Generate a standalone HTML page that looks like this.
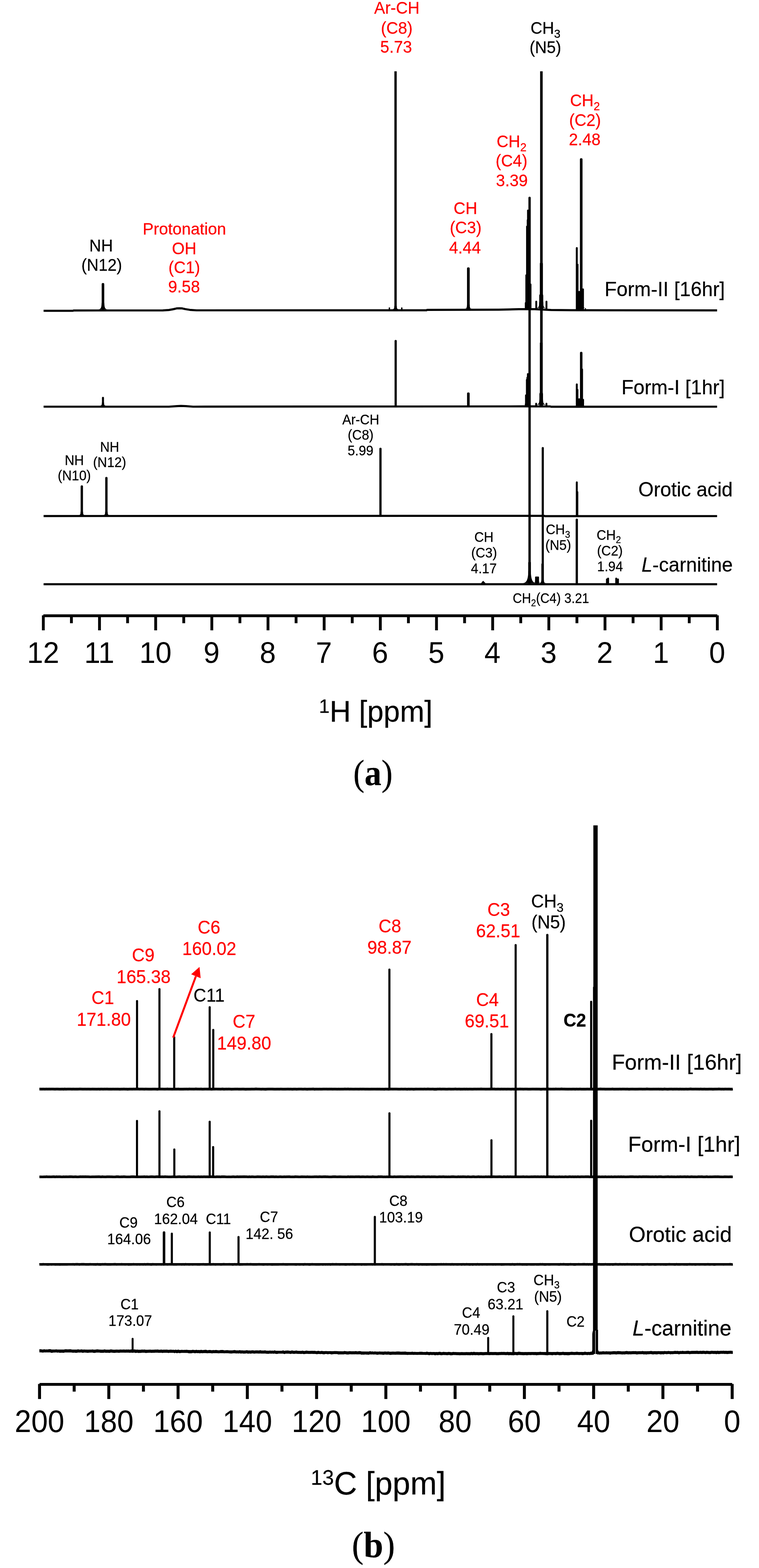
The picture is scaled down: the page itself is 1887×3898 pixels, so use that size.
<!DOCTYPE html>
<html lang="en"><head><meta charset="utf-8"><title>NMR spectra</title>
<style>
html,body{margin:0;padding:0;background:#fff;}
body{width:1887px;height:3898px;overflow:hidden;}
svg{display:block;font-family:"Liberation Sans", sans-serif;}
</style></head><body>
<svg width="1887" height="3898" viewBox="0 0 1887 3898">
<rect width="1887" height="3898" fill="#fff"/>
<line x1="107.72" y1="1530.70" x2="1783.40" y2="1530.70" stroke="#000" stroke-width="7"/>
<line x1="1783.40" y1="1529.70" x2="1783.40" y2="1567.00" stroke="#000" stroke-width="7" stroke-linecap="butt"/>
<line x1="1643.76" y1="1529.70" x2="1643.76" y2="1567.00" stroke="#000" stroke-width="7" stroke-linecap="butt"/>
<line x1="1504.12" y1="1529.70" x2="1504.12" y2="1567.00" stroke="#000" stroke-width="7" stroke-linecap="butt"/>
<line x1="1364.48" y1="1529.70" x2="1364.48" y2="1567.00" stroke="#000" stroke-width="7" stroke-linecap="butt"/>
<line x1="1224.84" y1="1529.70" x2="1224.84" y2="1567.00" stroke="#000" stroke-width="7" stroke-linecap="butt"/>
<line x1="1085.20" y1="1529.70" x2="1085.20" y2="1567.00" stroke="#000" stroke-width="7" stroke-linecap="butt"/>
<line x1="945.56" y1="1529.70" x2="945.56" y2="1567.00" stroke="#000" stroke-width="7" stroke-linecap="butt"/>
<line x1="805.92" y1="1529.70" x2="805.92" y2="1567.00" stroke="#000" stroke-width="7" stroke-linecap="butt"/>
<line x1="666.28" y1="1529.70" x2="666.28" y2="1567.00" stroke="#000" stroke-width="7" stroke-linecap="butt"/>
<line x1="526.64" y1="1529.70" x2="526.64" y2="1567.00" stroke="#000" stroke-width="7" stroke-linecap="butt"/>
<line x1="387.00" y1="1529.70" x2="387.00" y2="1567.00" stroke="#000" stroke-width="7" stroke-linecap="butt"/>
<line x1="247.36" y1="1529.70" x2="247.36" y2="1567.00" stroke="#000" stroke-width="7" stroke-linecap="butt"/>
<line x1="107.72" y1="1529.70" x2="107.72" y2="1567.00" stroke="#000" stroke-width="7" stroke-linecap="butt"/>
<line x1="1713.58" y1="1530.70" x2="1713.58" y2="1549.30" stroke="#000" stroke-width="7" stroke-linecap="butt"/>
<line x1="1573.94" y1="1530.70" x2="1573.94" y2="1549.30" stroke="#000" stroke-width="7" stroke-linecap="butt"/>
<line x1="1434.30" y1="1530.70" x2="1434.30" y2="1549.30" stroke="#000" stroke-width="7" stroke-linecap="butt"/>
<line x1="1294.66" y1="1530.70" x2="1294.66" y2="1549.30" stroke="#000" stroke-width="7" stroke-linecap="butt"/>
<line x1="1155.02" y1="1530.70" x2="1155.02" y2="1549.30" stroke="#000" stroke-width="7" stroke-linecap="butt"/>
<line x1="1015.38" y1="1530.70" x2="1015.38" y2="1549.30" stroke="#000" stroke-width="7" stroke-linecap="butt"/>
<line x1="875.74" y1="1530.70" x2="875.74" y2="1549.30" stroke="#000" stroke-width="7" stroke-linecap="butt"/>
<line x1="736.10" y1="1530.70" x2="736.10" y2="1549.30" stroke="#000" stroke-width="7" stroke-linecap="butt"/>
<line x1="596.46" y1="1530.70" x2="596.46" y2="1549.30" stroke="#000" stroke-width="7" stroke-linecap="butt"/>
<line x1="456.82" y1="1530.70" x2="456.82" y2="1549.30" stroke="#000" stroke-width="7" stroke-linecap="butt"/>
<line x1="317.18" y1="1530.70" x2="317.18" y2="1549.30" stroke="#000" stroke-width="7" stroke-linecap="butt"/>
<line x1="177.54" y1="1530.70" x2="177.54" y2="1549.30" stroke="#000" stroke-width="7" stroke-linecap="butt"/>
<text x="1782.9" y="1648.2" font-size="72" text-anchor="middle" transform="translate(0,1648.2) scale(1,1.04) translate(0,-1648.2)">0</text>
<text x="1643.3" y="1648.2" font-size="72" text-anchor="middle" transform="translate(0,1648.2) scale(1,1.04) translate(0,-1648.2)">1</text>
<text x="1503.6" y="1648.2" font-size="72" text-anchor="middle" transform="translate(0,1648.2) scale(1,1.04) translate(0,-1648.2)">2</text>
<text x="1364.0" y="1648.2" font-size="72" text-anchor="middle" transform="translate(0,1648.2) scale(1,1.04) translate(0,-1648.2)">3</text>
<text x="1224.3" y="1648.2" font-size="72" text-anchor="middle" transform="translate(0,1648.2) scale(1,1.04) translate(0,-1648.2)">4</text>
<text x="1084.7" y="1648.2" font-size="72" text-anchor="middle" transform="translate(0,1648.2) scale(1,1.04) translate(0,-1648.2)">5</text>
<text x="945.1" y="1648.2" font-size="72" text-anchor="middle" transform="translate(0,1648.2) scale(1,1.04) translate(0,-1648.2)">6</text>
<text x="805.4" y="1648.2" font-size="72" text-anchor="middle" transform="translate(0,1648.2) scale(1,1.04) translate(0,-1648.2)">7</text>
<text x="665.8" y="1648.2" font-size="72" text-anchor="middle" transform="translate(0,1648.2) scale(1,1.04) translate(0,-1648.2)">8</text>
<text x="526.1" y="1648.2" font-size="72" text-anchor="middle" transform="translate(0,1648.2) scale(1,1.04) translate(0,-1648.2)">9</text>
<text x="386.5" y="1648.2" font-size="72" text-anchor="middle" transform="translate(0,1648.2) scale(1,1.04) translate(0,-1648.2)">10</text>
<text x="246.9" y="1648.2" font-size="72" text-anchor="middle" transform="translate(0,1648.2) scale(1,1.04) translate(0,-1648.2)">11</text>
<text x="107.2" y="1648.2" font-size="72" text-anchor="middle" transform="translate(0,1648.2) scale(1,1.04) translate(0,-1648.2)">12</text>
<polyline points="108.40,772.70 181.00,772.70 183.00,771.80 405.00,771.70 420.00,770.60 431.00,768.60 439.00,766.70 446.00,766.30 453.00,766.70 461.00,768.50 472.00,770.30 489.00,771.50 1060.00,771.40 1062.00,770.30 1240.00,769.80 1290.00,768.70 1330.00,768.70 1370.00,770.60 1420.00,771.20 1782.80,771.60" fill="none" stroke="#000" stroke-width="5.2" stroke-linejoin="round" stroke-linecap="butt"/>
<polyline points="108.40,1011.00 420.00,1011.00 440.00,1009.60 450.00,1009.20 462.00,1009.60 480.00,1011.00 1300.00,1010.20 1368.00,1010.40 1370.00,1011.20 1782.80,1011.00" fill="none" stroke="#000" stroke-width="5.2" stroke-linejoin="round" stroke-linecap="butt"/>
<polyline points="108.40,1282.80 1353.00,1282.30 1355.00,1283.20 1782.80,1283.00" fill="none" stroke="#000" stroke-width="5.2" stroke-linejoin="round" stroke-linecap="butt"/>
<polyline points="108.40,1452.30 1782.80,1452.30" fill="none" stroke="#000" stroke-width="5.2" stroke-linejoin="round" stroke-linecap="butt"/>
<path d="M244.00,769.30 C251.80,768.80 252.30,762.40 252.80,752.80 L259.20,752.80 C259.70,762.40 260.20,768.80 268.00,769.30 Z" fill="#000"/>
<path d="M252.80,771.00 L252.80,706.70 A3.20,3.20 0 0 1 259.20,706.70 L259.20,771.00 Z" fill="#000"/>
<path d="M966.35,771.00 L966.35,765.75 A1.75,1.75 0 0 1 969.85,765.75 L969.85,771.00 Z" fill="#000"/>
<path d="M997.15,771.00 L997.15,765.75 A1.75,1.75 0 0 1 1000.65,765.75 L1000.65,771.00 Z" fill="#000"/>
<path d="M980.50,771.00 L980.50,177.30 L986.30,177.30 L986.30,771.00 Z" fill="#000"/>
<path d="M975.40,768.90 C980.60,768.40 980.00,765.20 980.50,760.40 L986.30,760.40 C986.80,765.20 986.20,768.40 991.40,768.90 Z" fill="#000"/>
<path d="M1161.05,771.00 L1161.05,667.95 A3.35,3.35 0 0 1 1167.75,667.95 L1167.75,771.00 Z" fill="#000"/>
<path d="M1155.40,767.45 C1161.25,766.95 1160.55,762.95 1161.05,756.95 L1167.75,756.95 C1168.25,762.95 1167.55,766.95 1173.40,767.45 Z" fill="#000"/>
<path d="M1313.70,1451.00 L1313.70,491.90 A2.90,2.90 0 0 1 1319.50,491.90 L1319.50,1451.00 Z" fill="#000"/>
<path d="M1310.35,771.00 L1310.35,523.25 A2.25,2.25 0 0 1 1314.85,523.25 L1314.85,771.00 Z" fill="#000"/>
<path d="M1309.60,771.00 L1309.60,547.00 A2.00,2.00 0 0 1 1313.60,547.00 L1313.60,771.00 Z" fill="#000"/>
<path d="M1307.95,771.00 L1307.95,563.25 A2.25,2.25 0 0 1 1312.45,563.25 L1312.45,771.00 Z" fill="#000"/>
<path d="M1306.15,771.00 L1306.15,684.25 A2.25,2.25 0 0 1 1310.65,684.25 L1310.65,771.00 Z" fill="#000"/>
<path d="M1304.80,771.00 L1304.80,753.00 A2.00,2.00 0 0 1 1308.80,753.00 L1308.80,771.00 Z" fill="#000"/>
<path d="M1317.30,771.00 L1317.30,707.00 A2.00,2.00 0 0 1 1321.30,707.00 L1321.30,771.00 Z" fill="#000"/>
<line x1="1346.00" y1="177.30" x2="1346.00" y2="1011.00" stroke="#000" stroke-width="6.4" stroke-linecap="butt"/>
<path d="M1342.10,771.00 L1342.10,655.80 A3.80,3.80 0 0 1 1349.70,655.80 L1349.70,771.00 Z" fill="#000"/>
<path d="M1340.60,771.00 L1340.60,735.00 A5.00,5.00 0 0 1 1350.60,735.00 L1350.60,771.00 Z" fill="#000"/>
<path d="M1332.60,765.50 C1341.05,765.00 1340.10,759.40 1340.60,751.00 L1350.60,751.00 C1351.10,759.40 1350.15,765.00 1358.60,765.50 Z" fill="#000"/>
<path d="M1330.90,771.00 L1330.90,749.80 A2.30,2.30 0 0 1 1335.50,749.80 L1335.50,771.00 Z" fill="#000"/>
<path d="M1356.30,771.00 L1356.30,749.80 A2.30,2.30 0 0 1 1360.90,749.80 L1360.90,771.00 Z" fill="#000"/>
<path d="M1441.75,771.00 L1441.75,396.45 A3.25,3.25 0 0 1 1448.25,396.45 L1448.25,771.00 Z" fill="#000"/>
<path d="M1431.60,771.00 L1431.60,616.70 A2.40,2.40 0 0 1 1436.40,616.70 L1436.40,771.00 Z" fill="#000"/>
<path d="M1435.75,771.00 L1435.75,657.25 A1.25,1.25 0 0 1 1438.25,657.25 L1438.25,771.00 Z" fill="#000"/>
<path d="M1438.00,771.00 L1438.00,725.00 A2.00,2.00 0 0 1 1442.00,725.00 L1442.00,771.00 Z" fill="#000"/>
<path d="M1447.25,771.00 L1447.25,719.25 A2.25,2.25 0 0 1 1451.75,719.25 L1451.75,771.00 Z" fill="#000"/>
<path d="M1434.00,765.50 C1441.15,765.00 1438.50,761.80 1439.00,757.00 L1451.00,757.00 C1451.50,761.80 1448.85,765.00 1456.00,765.50 Z" fill="#000"/>
<path d="M1454.00,771.00 L1454.00,767.50 A1.50,1.50 0 0 1 1457.00,767.50 L1457.00,771.00 Z" fill="#000"/>
<path d="M248.00,1009.00 C253.20,1008.50 253.00,1005.30 253.50,1000.50 L258.50,1000.50 C259.00,1005.30 258.80,1008.50 264.00,1009.00 Z" fill="#000"/>
<path d="M253.50,1011.50 L253.50,989.00 A2.50,2.50 0 0 1 258.50,989.00 L258.50,1011.50 Z" fill="#000"/>
<path d="M980.95,1011.50 L980.95,847.75 A2.75,2.75 0 0 1 986.45,847.75 L986.45,1011.50 Z" fill="#000"/>
<path d="M1161.15,1011.50 L1161.15,978.75 A3.25,3.25 0 0 1 1167.65,978.75 L1167.65,1011.50 Z" fill="#000"/>
<path d="M1310.05,1011.50 L1310.05,929.85 A2.25,2.25 0 0 1 1314.55,929.85 L1314.55,1011.50 Z" fill="#000"/>
<path d="M1308.75,1011.50 L1308.75,938.65 A2.25,2.25 0 0 1 1313.25,938.65 L1313.25,1011.50 Z" fill="#000"/>
<path d="M1307.55,1011.50 L1307.55,944.25 A2.25,2.25 0 0 1 1312.05,944.25 L1312.05,1011.50 Z" fill="#000"/>
<path d="M1305.35,1011.50 L1305.35,982.75 A2.25,2.25 0 0 1 1309.85,982.75 L1309.85,1011.50 Z" fill="#000"/>
<path d="M1304.80,1011.50 L1304.80,1004.50 A1.50,1.50 0 0 1 1307.80,1004.50 L1307.80,1011.50 Z" fill="#000"/>
<line x1="1345.70" y1="852.00" x2="1345.70" y2="1010.50" stroke="#000" stroke-width="7" stroke-linecap="butt"/>
<path d="M1341.00,1011.50 L1341.00,979.50 A4.50,4.50 0 0 1 1350.00,979.50 L1350.00,1011.50 Z" fill="#000"/>
<path d="M1332.50,1006.00 C1340.95,1005.50 1340.50,999.90 1341.00,991.50 L1350.00,991.50 C1350.50,999.90 1350.05,1005.50 1358.50,1006.00 Z" fill="#000"/>
<path d="M1330.65,1011.50 L1330.65,1003.55 A2.25,2.25 0 0 1 1335.15,1003.55 L1335.15,1011.50 Z" fill="#000"/>
<path d="M1356.35,1011.50 L1356.35,1003.55 A2.25,2.25 0 0 1 1360.85,1003.55 L1360.85,1011.50 Z" fill="#000"/>
<path d="M1441.90,1011.50 L1441.90,877.70 A3.10,3.10 0 0 1 1448.10,877.70 L1448.10,1011.50 Z" fill="#000"/>
<path d="M1444.50,1011.50 L1444.50,918.50 A2.50,2.50 0 0 1 1449.50,918.50 L1449.50,1011.50 Z" fill="#000"/>
<path d="M1431.60,1011.50 L1431.60,955.60 A2.40,2.40 0 0 1 1436.40,955.60 L1436.40,1011.50 Z" fill="#000"/>
<path d="M1435.00,1011.50 L1435.00,968.50 A1.50,1.50 0 0 1 1438.00,968.50 L1438.00,1011.50 Z" fill="#000"/>
<path d="M1438.00,1011.50 L1438.00,992.00 A2.00,2.00 0 0 1 1442.00,992.00 L1442.00,1011.50 Z" fill="#000"/>
<path d="M1447.55,1011.50 L1447.55,993.75 A2.25,2.25 0 0 1 1452.05,993.75 L1452.05,1011.50 Z" fill="#000"/>
<path d="M195.40,1280.40 C200.60,1279.90 200.00,1276.70 200.50,1271.90 L206.30,1271.90 C206.80,1276.70 206.20,1279.90 211.40,1280.40 Z" fill="#000"/>
<path d="M200.50,1283.50 L200.50,1209.40 A2.90,2.90 0 0 1 206.30,1209.40 L206.30,1283.50 Z" fill="#000"/>
<path d="M256.50,1280.40 C261.70,1279.90 261.10,1276.70 261.60,1271.90 L267.40,1271.90 C267.90,1276.70 267.30,1279.90 272.50,1280.40 Z" fill="#000"/>
<path d="M261.60,1283.50 L261.60,1188.40 A2.90,2.90 0 0 1 267.40,1188.40 L267.40,1283.50 Z" fill="#000"/>
<path d="M943.15,1283.50 L943.15,1115.75 A2.75,2.75 0 0 1 948.65,1115.75 L948.65,1283.50 Z" fill="#000"/>
<path d="M1346.75,1451.00 L1346.75,1113.95 A2.65,2.65 0 0 1 1352.05,1113.95 L1352.05,1451.00 Z" fill="#000"/>
<path d="M1431.60,1283.50 L1431.60,1199.20 A2.40,2.40 0 0 1 1436.40,1199.20 L1436.40,1283.50 Z" fill="#000"/>
<path d="M1432.70,1283.50 L1432.70,1223.50 A2.50,2.50 0 0 1 1437.70,1223.50 L1437.70,1283.50 Z" fill="#000"/>
<path d="M1431.20,1453.00 L1431.20,1292.10 A2.80,2.80 0 0 1 1436.80,1292.10 L1436.80,1453.00 Z" fill="#000"/>
<path d="M1299.60,1449.70 C1310.65,1449.20 1313.00,1437.20 1313.50,1419.20 L1319.70,1419.20 C1320.20,1437.20 1322.55,1449.20 1333.60,1449.70 Z" fill="#000"/>
<path d="M1313.30,1453.00 L1313.30,1399.30 A3.30,3.30 0 0 1 1319.90,1399.30 L1319.90,1453.00 Z" fill="#000"/>
<path d="M1345.90,1453.00 L1345.90,1403.10 A3.10,3.10 0 0 1 1352.10,1403.10 L1352.10,1453.00 Z" fill="#000"/>
<path d="M1340.00,1449.70 C1345.85,1449.20 1345.40,1446.00 1345.90,1441.20 L1352.10,1441.20 C1352.60,1446.00 1352.15,1449.20 1358.00,1449.70 Z" fill="#000"/>
<polygon points="1196.00,1450.00 1199.00,1446.00 1201.20,1443.80 1203.50,1446.00 1207.00,1450.00" fill="#000"/>
<path d="M1330.25,1453.00 L1330.25,1435.75 A2.75,2.75 0 0 1 1335.75,1435.75 L1335.75,1453.00 Z" fill="#000"/>
<path d="M1334.55,1453.00 L1334.55,1435.75 A2.75,2.75 0 0 1 1340.05,1435.75 L1340.05,1453.00 Z" fill="#000"/>
<path d="M1325.20,1448.30 C1331.70,1447.80 1330.20,1445.40 1330.70,1441.80 L1339.70,1441.80 C1340.20,1445.40 1338.70,1447.80 1345.20,1448.30 Z" fill="#000"/>
<path d="M1506.55,1453.00 L1506.55,1440.25 A2.25,2.25 0 0 1 1511.05,1440.25 L1511.05,1453.00 Z" fill="#000"/>
<path d="M1509.40,1453.00 L1509.40,1438.40 A2.40,2.40 0 0 1 1514.20,1438.40 L1514.20,1453.00 Z" fill="#000"/>
<path d="M1529.60,1453.00 L1529.60,1438.40 A2.40,2.40 0 0 1 1534.40,1438.40 L1534.40,1453.00 Z" fill="#000"/>
<path d="M1533.70,1453.00 L1533.70,1440.50 A2.50,2.50 0 0 1 1538.70,1440.50 L1538.70,1453.00 Z" fill="#000"/>
<line x1="98.30" y1="3441.50" x2="1820.30" y2="3441.50" stroke="#000" stroke-width="7.2"/>
<line x1="1820.30" y1="3440.50" x2="1820.30" y2="3477.90" stroke="#000" stroke-width="7.4" stroke-linecap="butt"/>
<line x1="1648.10" y1="3440.50" x2="1648.10" y2="3477.90" stroke="#000" stroke-width="7.4" stroke-linecap="butt"/>
<line x1="1475.90" y1="3440.50" x2="1475.90" y2="3477.90" stroke="#000" stroke-width="7.4" stroke-linecap="butt"/>
<line x1="1303.70" y1="3440.50" x2="1303.70" y2="3477.90" stroke="#000" stroke-width="7.4" stroke-linecap="butt"/>
<line x1="1131.50" y1="3440.50" x2="1131.50" y2="3477.90" stroke="#000" stroke-width="7.4" stroke-linecap="butt"/>
<line x1="959.30" y1="3440.50" x2="959.30" y2="3477.90" stroke="#000" stroke-width="7.4" stroke-linecap="butt"/>
<line x1="787.10" y1="3440.50" x2="787.10" y2="3477.90" stroke="#000" stroke-width="7.4" stroke-linecap="butt"/>
<line x1="614.90" y1="3440.50" x2="614.90" y2="3477.90" stroke="#000" stroke-width="7.4" stroke-linecap="butt"/>
<line x1="442.70" y1="3440.50" x2="442.70" y2="3477.90" stroke="#000" stroke-width="7.4" stroke-linecap="butt"/>
<line x1="270.50" y1="3440.50" x2="270.50" y2="3477.90" stroke="#000" stroke-width="7.4" stroke-linecap="butt"/>
<line x1="98.30" y1="3440.50" x2="98.30" y2="3477.90" stroke="#000" stroke-width="7.4" stroke-linecap="butt"/>
<line x1="1734.20" y1="3441.50" x2="1734.20" y2="3459.50" stroke="#000" stroke-width="7.4" stroke-linecap="butt"/>
<line x1="1562.00" y1="3441.50" x2="1562.00" y2="3459.50" stroke="#000" stroke-width="7.4" stroke-linecap="butt"/>
<line x1="1389.80" y1="3441.50" x2="1389.80" y2="3459.50" stroke="#000" stroke-width="7.4" stroke-linecap="butt"/>
<line x1="1217.60" y1="3441.50" x2="1217.60" y2="3459.50" stroke="#000" stroke-width="7.4" stroke-linecap="butt"/>
<line x1="1045.40" y1="3441.50" x2="1045.40" y2="3459.50" stroke="#000" stroke-width="7.4" stroke-linecap="butt"/>
<line x1="873.20" y1="3441.50" x2="873.20" y2="3459.50" stroke="#000" stroke-width="7.4" stroke-linecap="butt"/>
<line x1="701.00" y1="3441.50" x2="701.00" y2="3459.50" stroke="#000" stroke-width="7.4" stroke-linecap="butt"/>
<line x1="528.80" y1="3441.50" x2="528.80" y2="3459.50" stroke="#000" stroke-width="7.4" stroke-linecap="butt"/>
<line x1="356.60" y1="3441.50" x2="356.60" y2="3459.50" stroke="#000" stroke-width="7.4" stroke-linecap="butt"/>
<line x1="184.40" y1="3441.50" x2="184.40" y2="3459.50" stroke="#000" stroke-width="7.4" stroke-linecap="butt"/>
<text x="1820.3" y="3560" font-size="74" text-anchor="middle" transform="translate(0,3560) scale(1,1.04) translate(0,-3560)">0</text>
<text x="1648.1" y="3560" font-size="74" text-anchor="middle" transform="translate(0,3560) scale(1,1.04) translate(0,-3560)">20</text>
<text x="1475.9" y="3560" font-size="74" text-anchor="middle" transform="translate(0,3560) scale(1,1.04) translate(0,-3560)">40</text>
<text x="1303.7" y="3560" font-size="74" text-anchor="middle" transform="translate(0,3560) scale(1,1.04) translate(0,-3560)">60</text>
<text x="1131.5" y="3560" font-size="74" text-anchor="middle" transform="translate(0,3560) scale(1,1.04) translate(0,-3560)">80</text>
<text x="959.3" y="3560" font-size="74" text-anchor="middle" transform="translate(0,3560) scale(1,1.04) translate(0,-3560)">100</text>
<text x="787.1" y="3560" font-size="74" text-anchor="middle" transform="translate(0,3560) scale(1,1.04) translate(0,-3560)">120</text>
<text x="614.9" y="3560" font-size="74" text-anchor="middle" transform="translate(0,3560) scale(1,1.04) translate(0,-3560)">140</text>
<text x="442.7" y="3560" font-size="74" text-anchor="middle" transform="translate(0,3560) scale(1,1.04) translate(0,-3560)">160</text>
<text x="270.5" y="3560" font-size="74" text-anchor="middle" transform="translate(0,3560) scale(1,1.04) translate(0,-3560)">180</text>
<text x="98.3" y="3560" font-size="74" text-anchor="middle" transform="translate(0,3560) scale(1,1.04) translate(0,-3560)">200</text>
<line x1="98.00" y1="2707.50" x2="1821.60" y2="2707.50" stroke="#000" stroke-width="6.6"/>
<polyline points="98.00,2707.29 101.00,2707.08 104.00,2707.68 107.00,2706.99 110.00,2707.54 113.00,2707.34 116.00,2706.97 119.00,2707.51 122.00,2706.94 125.00,2707.42 128.00,2706.98 131.00,2707.01 134.00,2707.41 137.00,2707.89 140.00,2707.05 143.00,2707.17 146.00,2707.65 149.00,2708.04 152.00,2707.59 155.00,2707.38 158.00,2708.07 161.00,2706.96 164.00,2707.93 167.00,2707.25 170.00,2707.07 173.00,2707.04 176.00,2707.27 179.00,2707.88 182.00,2707.12 185.00,2707.60 188.00,2707.67 191.00,2707.35 194.00,2707.56 197.00,2706.98 200.00,2706.97 203.00,2707.15 206.00,2707.72 209.00,2707.41 212.00,2707.28 215.00,2707.60 218.00,2707.44 221.00,2707.26 224.00,2707.85 227.00,2707.74 230.00,2707.19 233.00,2707.59 236.00,2707.53 239.00,2707.95 242.00,2707.78 245.00,2707.25 248.00,2708.08 251.00,2707.04 254.00,2707.40 257.00,2707.81 260.00,2707.08 263.00,2707.49 266.00,2706.95 269.00,2707.70 272.00,2707.82 275.00,2707.59 278.00,2707.95 281.00,2707.28 284.00,2707.73 287.00,2707.61 290.00,2707.60 293.00,2707.45 296.00,2707.91 299.00,2708.03 302.00,2707.47 305.00,2707.70 308.00,2706.97 311.00,2707.74 314.00,2707.68 317.00,2708.09 320.00,2707.89 323.00,2707.24 326.00,2707.36 329.00,2707.70 332.00,2706.93 335.00,2707.45 338.00,2707.10 341.00,2707.04 344.00,2706.97 347.00,2707.82 350.00,2707.06 353.00,2707.20 356.00,2707.37 359.00,2707.95 362.00,2707.00 365.00,2707.44 368.00,2707.56 371.00,2707.96 374.00,2707.88 377.00,2707.94 380.00,2707.23 383.00,2707.40 386.00,2707.33 389.00,2707.96 392.00,2708.05 395.00,2707.08 398.00,2707.11 401.00,2707.18 404.00,2707.18 407.00,2707.48 410.00,2707.61 413.00,2707.22 416.00,2706.90 419.00,2707.40 422.00,2707.34 425.00,2707.58 428.00,2708.04 431.00,2707.73 434.00,2707.52 437.00,2707.64 440.00,2707.71 443.00,2706.96 446.00,2707.98 449.00,2707.84 452.00,2707.95 455.00,2707.86 458.00,2707.37 461.00,2707.38 464.00,2707.02 467.00,2707.66 470.00,2706.97 473.00,2706.98 476.00,2707.15 479.00,2707.09 482.00,2707.31 485.00,2706.96 488.00,2706.90 491.00,2707.08 494.00,2707.02 497.00,2707.34 500.00,2706.93 503.00,2707.95 506.00,2707.64 509.00,2707.08 512.00,2707.20 515.00,2707.32 518.00,2707.34 521.00,2707.05 524.00,2707.92 527.00,2708.09 530.00,2707.46 533.00,2707.48 536.00,2707.00 539.00,2707.02 542.00,2707.31 545.00,2707.22 548.00,2707.89 551.00,2707.09 554.00,2706.93 557.00,2708.04 560.00,2707.53 563.00,2707.08 566.00,2707.55 569.00,2706.93 572.00,2707.53 575.00,2708.07 578.00,2707.94 581.00,2707.74 584.00,2707.21 587.00,2707.34 590.00,2707.10 593.00,2707.83 596.00,2707.54 599.00,2707.83 602.00,2707.30 605.00,2707.17 608.00,2707.87 611.00,2708.08 614.00,2707.92 617.00,2707.87 620.00,2707.88 623.00,2707.79 626.00,2707.17 629.00,2707.52 632.00,2707.33 635.00,2706.93 638.00,2706.93 641.00,2707.24 644.00,2707.21 647.00,2707.73 650.00,2708.05 653.00,2707.44 656.00,2708.02 659.00,2708.09 662.00,2708.05 665.00,2707.34 668.00,2707.16 671.00,2707.17 674.00,2707.14 677.00,2707.15 680.00,2707.65 683.00,2707.98 686.00,2707.91 689.00,2707.48 692.00,2707.68 695.00,2707.86 698.00,2707.00 701.00,2707.69 704.00,2707.99 707.00,2707.84 710.00,2707.80 713.00,2707.47 716.00,2707.11 719.00,2707.85 722.00,2707.30 725.00,2707.86 728.00,2708.07 731.00,2707.38 734.00,2707.38 737.00,2708.04 740.00,2707.77 743.00,2707.10 746.00,2707.05 749.00,2707.08 752.00,2707.99 755.00,2707.87 758.00,2707.08 761.00,2707.89 764.00,2708.08 767.00,2707.69 770.00,2707.32 773.00,2707.56 776.00,2707.06 779.00,2706.92 782.00,2708.07 785.00,2707.68 788.00,2707.53 791.00,2708.02 794.00,2707.42 797.00,2707.95 800.00,2707.89 803.00,2707.15 806.00,2707.20 809.00,2707.25 812.00,2707.19 815.00,2707.60 818.00,2707.21 821.00,2707.40 824.00,2707.06 827.00,2707.99 830.00,2707.32 833.00,2707.45 836.00,2707.60 839.00,2707.99 842.00,2707.40 845.00,2708.00 848.00,2707.50 851.00,2707.54 854.00,2707.53 857.00,2706.92 860.00,2707.43 863.00,2707.12 866.00,2706.90 869.00,2707.86 872.00,2707.11 875.00,2707.47 878.00,2707.77 881.00,2707.57 884.00,2707.29 887.00,2707.52 890.00,2707.57 893.00,2707.84 896.00,2707.03 899.00,2707.57 902.00,2707.20 905.00,2707.23 908.00,2707.83 911.00,2707.51 914.00,2707.57 917.00,2707.81 920.00,2707.99 923.00,2707.43 926.00,2707.64 929.00,2707.51 932.00,2707.51 935.00,2707.73 938.00,2707.44 941.00,2707.54 944.00,2707.47 947.00,2708.03 950.00,2707.74 953.00,2707.95 956.00,2708.03 959.00,2707.21 962.00,2707.57 965.00,2708.03 968.00,2707.91 971.00,2707.06 974.00,2707.05 977.00,2707.43 980.00,2706.99 983.00,2707.19 986.00,2706.99 989.00,2707.70 992.00,2707.84 995.00,2707.98 998.00,2707.09 1001.00,2707.76 1004.00,2707.69 1007.00,2707.07 1010.00,2707.96 1013.00,2708.06 1016.00,2707.16 1019.00,2708.04 1022.00,2707.38 1025.00,2707.48 1028.00,2708.09 1031.00,2707.90 1034.00,2707.09 1037.00,2707.42 1040.00,2707.52 1043.00,2707.31 1046.00,2707.13 1049.00,2707.28 1052.00,2707.77 1055.00,2706.92 1058.00,2707.56 1061.00,2707.43 1064.00,2706.92 1067.00,2707.30 1070.00,2707.65 1073.00,2707.51 1076.00,2706.98 1079.00,2708.08 1082.00,2707.85 1085.00,2708.07 1088.00,2707.03 1091.00,2707.22 1094.00,2706.95 1097.00,2707.83 1100.00,2707.22 1103.00,2707.06 1106.00,2707.41 1109.00,2707.99 1112.00,2707.88 1115.00,2707.21 1118.00,2707.08 1121.00,2708.00 1124.00,2707.58 1127.00,2707.74 1130.00,2707.01 1133.00,2706.97 1136.00,2707.73 1139.00,2707.41 1142.00,2706.99 1145.00,2708.03 1148.00,2707.66 1151.00,2707.86 1154.00,2707.00 1157.00,2707.93 1160.00,2706.98 1163.00,2707.94 1166.00,2707.44 1169.00,2707.31 1172.00,2707.56 1175.00,2708.01 1178.00,2707.22 1181.00,2707.06 1184.00,2707.53 1187.00,2707.19 1190.00,2707.03 1193.00,2707.09 1196.00,2706.96 1199.00,2707.14 1202.00,2707.27 1205.00,2707.27 1208.00,2707.81 1211.00,2707.25 1214.00,2707.50 1217.00,2707.11 1220.00,2707.32 1223.00,2706.92 1226.00,2707.20 1229.00,2706.92 1232.00,2707.78 1235.00,2707.56 1238.00,2707.13 1241.00,2707.47 1244.00,2708.02 1247.00,2707.03 1250.00,2707.88 1253.00,2707.42 1256.00,2707.49 1259.00,2707.90 1262.00,2707.37 1265.00,2707.51 1268.00,2707.73 1271.00,2708.08 1274.00,2707.31 1277.00,2707.90 1280.00,2707.75 1283.00,2707.66 1286.00,2707.39 1289.00,2707.32 1292.00,2706.97 1295.00,2707.06 1298.00,2706.98 1301.00,2707.79 1304.00,2707.21 1307.00,2707.10 1310.00,2707.00 1313.00,2707.91 1316.00,2707.94 1319.00,2707.70 1322.00,2707.24 1325.00,2707.19 1328.00,2707.25 1331.00,2707.45 1334.00,2707.09 1337.00,2707.43 1340.00,2707.22 1343.00,2708.05 1346.00,2708.07 1349.00,2707.56 1352.00,2707.19 1355.00,2708.06 1358.00,2707.27 1361.00,2707.33 1364.00,2706.90 1367.00,2707.36 1370.00,2707.47 1373.00,2707.50 1376.00,2707.14 1379.00,2707.51 1382.00,2706.91 1385.00,2707.22 1388.00,2707.01 1391.00,2707.38 1394.00,2706.95 1397.00,2706.93 1400.00,2707.27 1403.00,2707.18 1406.00,2707.60 1409.00,2707.54 1412.00,2707.80 1415.00,2707.69 1418.00,2707.76 1421.00,2707.95 1424.00,2707.37 1427.00,2707.29 1430.00,2708.08 1433.00,2707.08 1436.00,2707.77 1439.00,2707.67 1442.00,2706.95 1445.00,2707.90 1448.00,2707.97 1451.00,2707.65 1454.00,2707.78 1457.00,2707.87 1460.00,2707.07 1463.00,2707.53 1466.00,2707.51 1469.00,2707.90 1472.00,2707.87 1475.00,2707.89 1478.00,2707.60 1481.00,2707.97 1484.00,2707.72 1487.00,2707.73 1490.00,2707.18 1493.00,2706.94 1496.00,2707.06 1499.00,2707.33 1502.00,2707.03 1505.00,2707.90 1508.00,2707.57 1511.00,2707.65 1514.00,2707.65 1517.00,2707.72 1520.00,2707.49 1523.00,2706.90 1526.00,2707.86 1529.00,2707.80 1532.00,2707.50 1535.00,2707.54 1538.00,2707.69 1541.00,2706.98 1544.00,2707.78 1547.00,2707.20 1550.00,2706.99 1553.00,2707.22 1556.00,2707.78 1559.00,2707.15 1562.00,2707.79 1565.00,2708.07 1568.00,2707.49 1571.00,2707.36 1574.00,2707.47 1577.00,2707.72 1580.00,2707.82 1583.00,2707.64 1586.00,2707.67 1589.00,2706.99 1592.00,2707.08 1595.00,2707.20 1598.00,2707.79 1601.00,2707.27 1604.00,2707.58 1607.00,2706.91 1610.00,2706.97 1613.00,2707.22 1616.00,2707.71 1619.00,2707.73 1622.00,2707.71 1625.00,2707.25 1628.00,2707.52 1631.00,2707.46 1634.00,2707.46 1637.00,2707.04 1640.00,2707.97 1643.00,2707.14 1646.00,2708.07 1649.00,2708.02 1652.00,2706.92 1655.00,2707.45 1658.00,2707.88 1661.00,2708.06 1664.00,2707.44 1667.00,2707.22 1670.00,2707.15 1673.00,2708.03 1676.00,2707.15 1679.00,2707.60 1682.00,2707.07 1685.00,2707.53 1688.00,2708.04 1691.00,2707.06 1694.00,2707.88 1697.00,2707.51 1700.00,2707.96 1703.00,2707.74 1706.00,2707.18 1709.00,2707.98 1712.00,2707.48 1715.00,2706.93 1718.00,2706.90 1721.00,2707.49 1724.00,2707.44 1727.00,2707.26 1730.00,2707.07 1733.00,2707.31 1736.00,2707.28 1739.00,2707.91 1742.00,2706.90 1745.00,2707.80 1748.00,2707.91 1751.00,2707.04 1754.00,2708.01 1757.00,2707.76 1760.00,2707.98 1763.00,2707.25 1766.00,2707.35 1769.00,2707.37 1772.00,2708.10 1775.00,2707.61 1778.00,2707.33 1781.00,2707.41 1784.00,2707.23 1787.00,2706.96 1790.00,2707.02 1793.00,2707.90 1796.00,2707.24 1799.00,2708.02 1802.00,2707.20 1805.00,2707.22 1808.00,2707.51 1811.00,2707.13 1814.00,2707.35 1817.00,2708.05 1820.00,2707.96 1821.60,2707.50" fill="none" stroke="#000" stroke-width="6.2" stroke-linejoin="round" stroke-linecap="butt"/>
<line x1="98.00" y1="2925.60" x2="1821.60" y2="2925.60" stroke="#000" stroke-width="6.2"/>
<polyline points="98.00,2925.77 101.00,2925.56 104.00,2925.90 107.00,2925.93 110.00,2925.46 113.00,2925.66 116.00,2924.86 119.00,2925.68 122.00,2925.34 125.00,2925.70 128.00,2925.57 131.00,2925.14 134.00,2924.86 137.00,2925.91 140.00,2924.95 143.00,2925.37 146.00,2925.21 149.00,2925.16 152.00,2925.69 155.00,2925.97 158.00,2925.11 161.00,2925.59 164.00,2925.16 167.00,2925.47 170.00,2925.27 173.00,2925.00 176.00,2924.99 179.00,2925.05 182.00,2925.89 185.00,2925.40 188.00,2925.06 191.00,2925.89 194.00,2926.00 197.00,2925.34 200.00,2924.97 203.00,2925.03 206.00,2924.91 209.00,2925.21 212.00,2924.91 215.00,2925.09 218.00,2925.11 221.00,2925.48 224.00,2925.86 227.00,2925.70 230.00,2925.30 233.00,2925.30 236.00,2925.43 239.00,2925.25 242.00,2925.21 245.00,2924.87 248.00,2925.13 251.00,2925.96 254.00,2924.95 257.00,2925.40 260.00,2925.56 263.00,2925.84 266.00,2925.06 269.00,2925.13 272.00,2925.10 275.00,2925.28 278.00,2925.34 281.00,2925.94 284.00,2925.82 287.00,2925.85 290.00,2924.83 293.00,2924.84 296.00,2925.65 299.00,2925.87 302.00,2925.37 305.00,2925.50 308.00,2924.80 311.00,2925.27 314.00,2925.91 317.00,2925.79 320.00,2925.83 323.00,2925.97 326.00,2925.10 329.00,2924.93 332.00,2924.99 335.00,2925.43 338.00,2925.62 341.00,2925.93 344.00,2925.67 347.00,2925.58 350.00,2925.72 353.00,2925.35 356.00,2925.46 359.00,2924.85 362.00,2925.74 365.00,2925.08 368.00,2925.90 371.00,2925.57 374.00,2925.16 377.00,2924.95 380.00,2925.10 383.00,2925.56 386.00,2925.64 389.00,2924.93 392.00,2924.88 395.00,2925.43 398.00,2925.50 401.00,2925.27 404.00,2925.07 407.00,2925.52 410.00,2924.81 413.00,2925.16 416.00,2925.35 419.00,2925.95 422.00,2925.57 425.00,2925.86 428.00,2925.37 431.00,2925.08 434.00,2925.10 437.00,2925.95 440.00,2925.65 443.00,2925.17 446.00,2924.83 449.00,2925.40 452.00,2925.61 455.00,2925.30 458.00,2925.11 461.00,2925.60 464.00,2925.91 467.00,2925.07 470.00,2924.84 473.00,2925.21 476.00,2925.30 479.00,2925.62 482.00,2925.04 485.00,2925.76 488.00,2925.69 491.00,2925.41 494.00,2925.05 497.00,2925.96 500.00,2925.17 503.00,2925.78 506.00,2925.08 509.00,2925.07 512.00,2925.71 515.00,2925.15 518.00,2925.94 521.00,2925.39 524.00,2925.02 527.00,2925.07 530.00,2925.30 533.00,2925.60 536.00,2925.94 539.00,2924.98 542.00,2925.27 545.00,2925.06 548.00,2925.97 551.00,2924.97 554.00,2924.86 557.00,2924.87 560.00,2925.27 563.00,2925.88 566.00,2925.86 569.00,2925.68 572.00,2926.00 575.00,2925.92 578.00,2925.20 581.00,2925.02 584.00,2925.92 587.00,2925.70 590.00,2924.84 593.00,2925.60 596.00,2925.25 599.00,2925.25 602.00,2925.20 605.00,2925.00 608.00,2924.80 611.00,2925.14 614.00,2925.22 617.00,2925.95 620.00,2924.95 623.00,2925.96 626.00,2925.05 629.00,2925.23 632.00,2925.79 635.00,2925.79 638.00,2925.32 641.00,2924.86 644.00,2925.37 647.00,2925.25 650.00,2925.90 653.00,2925.03 656.00,2925.24 659.00,2925.88 662.00,2924.84 665.00,2925.29 668.00,2925.77 671.00,2925.72 674.00,2924.85 677.00,2924.84 680.00,2924.88 683.00,2925.90 686.00,2925.11 689.00,2925.70 692.00,2925.88 695.00,2925.21 698.00,2925.13 701.00,2925.95 704.00,2925.54 707.00,2925.11 710.00,2925.66 713.00,2925.18 716.00,2925.13 719.00,2924.80 722.00,2925.71 725.00,2925.90 728.00,2925.56 731.00,2925.93 734.00,2924.83 737.00,2925.08 740.00,2925.37 743.00,2925.95 746.00,2925.94 749.00,2925.26 752.00,2925.10 755.00,2925.32 758.00,2925.39 761.00,2925.91 764.00,2925.02 767.00,2925.76 770.00,2925.69 773.00,2925.79 776.00,2925.73 779.00,2925.53 782.00,2925.19 785.00,2925.18 788.00,2925.23 791.00,2925.74 794.00,2924.89 797.00,2925.04 800.00,2925.70 803.00,2925.10 806.00,2924.88 809.00,2924.84 812.00,2925.46 815.00,2925.19 818.00,2925.98 821.00,2925.86 824.00,2925.99 827.00,2925.12 830.00,2924.90 833.00,2924.92 836.00,2925.40 839.00,2925.65 842.00,2925.34 845.00,2925.08 848.00,2925.30 851.00,2925.54 854.00,2925.61 857.00,2925.70 860.00,2925.82 863.00,2925.60 866.00,2924.95 869.00,2925.81 872.00,2925.15 875.00,2925.48 878.00,2925.25 881.00,2925.69 884.00,2925.04 887.00,2925.10 890.00,2925.09 893.00,2924.98 896.00,2925.86 899.00,2925.49 902.00,2925.19 905.00,2925.28 908.00,2925.99 911.00,2925.41 914.00,2925.08 917.00,2925.77 920.00,2925.58 923.00,2925.99 926.00,2924.92 929.00,2925.37 932.00,2925.78 935.00,2925.81 938.00,2925.90 941.00,2924.85 944.00,2925.15 947.00,2924.94 950.00,2925.03 953.00,2925.97 956.00,2925.50 959.00,2925.92 962.00,2925.25 965.00,2925.84 968.00,2925.34 971.00,2925.11 974.00,2925.73 977.00,2925.93 980.00,2924.93 983.00,2925.52 986.00,2925.54 989.00,2925.06 992.00,2925.24 995.00,2924.97 998.00,2925.04 1001.00,2925.11 1004.00,2925.52 1007.00,2925.58 1010.00,2925.04 1013.00,2924.81 1016.00,2925.19 1019.00,2925.61 1022.00,2925.02 1025.00,2925.17 1028.00,2925.04 1031.00,2925.75 1034.00,2925.46 1037.00,2924.88 1040.00,2924.92 1043.00,2925.27 1046.00,2925.46 1049.00,2925.57 1052.00,2924.91 1055.00,2925.00 1058.00,2925.63 1061.00,2925.29 1064.00,2925.14 1067.00,2925.17 1070.00,2925.94 1073.00,2925.17 1076.00,2925.48 1079.00,2925.23 1082.00,2925.30 1085.00,2925.84 1088.00,2926.00 1091.00,2925.24 1094.00,2925.04 1097.00,2925.67 1100.00,2925.04 1103.00,2924.81 1106.00,2925.88 1109.00,2925.31 1112.00,2925.78 1115.00,2925.29 1118.00,2925.86 1121.00,2925.35 1124.00,2925.00 1127.00,2924.82 1130.00,2925.46 1133.00,2925.57 1136.00,2925.89 1139.00,2924.91 1142.00,2925.55 1145.00,2925.25 1148.00,2925.41 1151.00,2924.98 1154.00,2925.14 1157.00,2925.43 1160.00,2925.91 1163.00,2924.93 1166.00,2925.39 1169.00,2925.77 1172.00,2925.96 1175.00,2925.04 1178.00,2924.95 1181.00,2925.93 1184.00,2925.97 1187.00,2925.38 1190.00,2924.86 1193.00,2925.91 1196.00,2925.27 1199.00,2925.89 1202.00,2925.54 1205.00,2925.79 1208.00,2924.99 1211.00,2925.74 1214.00,2925.07 1217.00,2925.29 1220.00,2925.82 1223.00,2925.80 1226.00,2925.02 1229.00,2925.06 1232.00,2925.28 1235.00,2925.42 1238.00,2925.26 1241.00,2924.95 1244.00,2925.10 1247.00,2925.67 1250.00,2925.88 1253.00,2924.85 1256.00,2925.47 1259.00,2925.71 1262.00,2924.85 1265.00,2925.81 1268.00,2924.94 1271.00,2925.52 1274.00,2925.46 1277.00,2925.55 1280.00,2925.17 1283.00,2925.30 1286.00,2925.50 1289.00,2925.31 1292.00,2925.59 1295.00,2925.34 1298.00,2925.33 1301.00,2924.83 1304.00,2925.54 1307.00,2925.39 1310.00,2925.08 1313.00,2925.72 1316.00,2925.74 1319.00,2925.35 1322.00,2925.02 1325.00,2925.37 1328.00,2924.93 1331.00,2924.95 1334.00,2925.32 1337.00,2924.91 1340.00,2925.33 1343.00,2925.41 1346.00,2924.85 1349.00,2925.56 1352.00,2924.90 1355.00,2925.68 1358.00,2925.73 1361.00,2925.41 1364.00,2924.87 1367.00,2925.40 1370.00,2925.25 1373.00,2925.94 1376.00,2924.96 1379.00,2925.83 1382.00,2926.00 1385.00,2925.68 1388.00,2925.78 1391.00,2925.03 1394.00,2925.98 1397.00,2925.39 1400.00,2925.95 1403.00,2925.90 1406.00,2925.00 1409.00,2925.75 1412.00,2925.92 1415.00,2924.88 1418.00,2925.22 1421.00,2925.71 1424.00,2924.99 1427.00,2925.88 1430.00,2925.13 1433.00,2925.78 1436.00,2924.97 1439.00,2925.40 1442.00,2925.90 1445.00,2925.05 1448.00,2925.12 1451.00,2925.41 1454.00,2925.18 1457.00,2924.84 1460.00,2925.02 1463.00,2924.99 1466.00,2925.92 1469.00,2925.62 1472.00,2925.87 1475.00,2925.00 1478.00,2925.74 1481.00,2924.94 1484.00,2925.44 1487.00,2925.56 1490.00,2925.23 1493.00,2925.85 1496.00,2925.47 1499.00,2925.50 1502.00,2925.86 1505.00,2924.93 1508.00,2925.99 1511.00,2925.56 1514.00,2925.27 1517.00,2925.76 1520.00,2925.12 1523.00,2925.99 1526.00,2925.49 1529.00,2925.23 1532.00,2925.72 1535.00,2925.33 1538.00,2925.01 1541.00,2925.69 1544.00,2924.86 1547.00,2925.78 1550.00,2925.10 1553.00,2925.57 1556.00,2925.98 1559.00,2925.50 1562.00,2925.60 1565.00,2925.18 1568.00,2924.80 1571.00,2924.84 1574.00,2924.98 1577.00,2925.54 1580.00,2925.32 1583.00,2925.42 1586.00,2925.87 1589.00,2924.96 1592.00,2925.07 1595.00,2925.58 1598.00,2924.83 1601.00,2924.80 1604.00,2925.23 1607.00,2924.93 1610.00,2925.23 1613.00,2925.07 1616.00,2925.50 1619.00,2925.51 1622.00,2925.05 1625.00,2925.55 1628.00,2925.37 1631.00,2924.96 1634.00,2925.92 1637.00,2925.09 1640.00,2924.98 1643.00,2924.91 1646.00,2925.57 1649.00,2925.85 1652.00,2925.74 1655.00,2925.28 1658.00,2925.12 1661.00,2924.81 1664.00,2925.57 1667.00,2925.47 1670.00,2925.22 1673.00,2925.57 1676.00,2925.33 1679.00,2925.92 1682.00,2925.68 1685.00,2925.10 1688.00,2925.88 1691.00,2924.85 1694.00,2925.44 1697.00,2925.29 1700.00,2925.09 1703.00,2924.87 1706.00,2925.73 1709.00,2924.81 1712.00,2925.46 1715.00,2925.93 1718.00,2924.97 1721.00,2925.04 1724.00,2925.53 1727.00,2925.41 1730.00,2925.57 1733.00,2925.78 1736.00,2925.01 1739.00,2925.17 1742.00,2925.16 1745.00,2924.86 1748.00,2925.87 1751.00,2925.74 1754.00,2925.66 1757.00,2924.81 1760.00,2925.81 1763.00,2925.69 1766.00,2925.36 1769.00,2925.69 1772.00,2925.34 1775.00,2925.07 1778.00,2924.93 1781.00,2925.08 1784.00,2924.85 1787.00,2925.20 1790.00,2925.70 1793.00,2925.63 1796.00,2925.81 1799.00,2925.65 1802.00,2925.12 1805.00,2925.46 1808.00,2925.32 1811.00,2925.75 1814.00,2925.43 1817.00,2925.12 1820.00,2925.57 1821.60,2925.40" fill="none" stroke="#000" stroke-width="5.8" stroke-linejoin="round" stroke-linecap="butt"/>
<line x1="98.00" y1="3143.20" x2="1821.60" y2="3143.20" stroke="#000" stroke-width="6.2"/>
<polyline points="98.00,3143.57 101.00,3142.82 104.00,3143.48 107.00,3142.62 110.00,3142.86 113.00,3142.84 116.00,3143.34 119.00,3143.54 122.00,3143.35 125.00,3142.93 128.00,3143.48 131.00,3142.93 134.00,3142.84 137.00,3143.51 140.00,3143.23 143.00,3143.29 146.00,3143.27 149.00,3143.58 152.00,3143.07 155.00,3143.44 158.00,3143.30 161.00,3143.46 164.00,3143.04 167.00,3143.32 170.00,3143.17 173.00,3142.91 176.00,3142.81 179.00,3143.22 182.00,3142.68 185.00,3143.51 188.00,3142.74 191.00,3142.63 194.00,3142.71 197.00,3143.53 200.00,3142.94 203.00,3142.74 206.00,3142.63 209.00,3142.64 212.00,3143.29 215.00,3143.23 218.00,3143.30 221.00,3143.34 224.00,3142.67 227.00,3143.19 230.00,3142.96 233.00,3143.42 236.00,3143.42 239.00,3143.49 242.00,3142.67 245.00,3143.47 248.00,3143.51 251.00,3143.54 254.00,3142.71 257.00,3142.81 260.00,3142.71 263.00,3142.63 266.00,3143.45 269.00,3143.41 272.00,3143.23 275.00,3143.43 278.00,3143.23 281.00,3142.89 284.00,3142.70 287.00,3142.70 290.00,3143.36 293.00,3142.80 296.00,3142.92 299.00,3143.02 302.00,3142.62 305.00,3142.86 308.00,3142.88 311.00,3143.32 314.00,3142.97 317.00,3142.92 320.00,3143.56 323.00,3143.10 326.00,3143.45 329.00,3143.22 332.00,3142.63 335.00,3143.01 338.00,3143.04 341.00,3143.37 344.00,3142.95 347.00,3143.30 350.00,3143.14 353.00,3142.82 356.00,3143.46 359.00,3142.69 362.00,3143.42 365.00,3142.77 368.00,3142.60 371.00,3142.80 374.00,3143.36 377.00,3143.58 380.00,3142.60 383.00,3143.09 386.00,3143.09 389.00,3143.40 392.00,3142.78 395.00,3143.09 398.00,3142.95 401.00,3143.43 404.00,3142.86 407.00,3143.54 410.00,3142.88 413.00,3142.81 416.00,3143.30 419.00,3143.10 422.00,3142.71 425.00,3143.24 428.00,3142.68 431.00,3143.39 434.00,3143.30 437.00,3143.39 440.00,3143.23 443.00,3142.96 446.00,3143.00 449.00,3142.99 452.00,3143.49 455.00,3142.69 458.00,3143.49 461.00,3142.63 464.00,3142.81 467.00,3142.86 470.00,3143.50 473.00,3143.10 476.00,3142.98 479.00,3143.48 482.00,3142.83 485.00,3143.06 488.00,3143.13 491.00,3143.35 494.00,3143.35 497.00,3143.25 500.00,3142.95 503.00,3142.93 506.00,3142.76 509.00,3143.44 512.00,3143.26 515.00,3143.34 518.00,3142.77 521.00,3143.04 524.00,3143.37 527.00,3143.18 530.00,3142.73 533.00,3143.06 536.00,3143.49 539.00,3142.84 542.00,3142.79 545.00,3142.90 548.00,3143.30 551.00,3143.44 554.00,3142.75 557.00,3142.76 560.00,3142.85 563.00,3142.93 566.00,3143.12 569.00,3142.76 572.00,3142.93 575.00,3142.79 578.00,3143.58 581.00,3143.33 584.00,3142.70 587.00,3143.56 590.00,3142.70 593.00,3142.98 596.00,3143.58 599.00,3143.39 602.00,3143.33 605.00,3143.03 608.00,3142.80 611.00,3143.24 614.00,3142.71 617.00,3142.81 620.00,3142.99 623.00,3142.63 626.00,3143.00 629.00,3143.39 632.00,3143.29 635.00,3143.10 638.00,3143.23 641.00,3143.06 644.00,3142.74 647.00,3143.20 650.00,3143.00 653.00,3143.34 656.00,3143.51 659.00,3143.03 662.00,3143.17 665.00,3143.35 668.00,3143.02 671.00,3142.83 674.00,3143.32 677.00,3143.48 680.00,3143.37 683.00,3143.30 686.00,3143.45 689.00,3143.28 692.00,3143.24 695.00,3143.05 698.00,3142.91 701.00,3143.23 704.00,3142.70 707.00,3143.02 710.00,3143.38 713.00,3143.31 716.00,3143.23 719.00,3142.85 722.00,3143.02 725.00,3143.06 728.00,3143.22 731.00,3143.01 734.00,3143.28 737.00,3143.53 740.00,3142.78 743.00,3143.25 746.00,3143.38 749.00,3142.99 752.00,3143.09 755.00,3143.57 758.00,3142.64 761.00,3143.14 764.00,3142.76 767.00,3143.38 770.00,3143.54 773.00,3143.12 776.00,3142.70 779.00,3143.17 782.00,3143.14 785.00,3143.32 788.00,3143.11 791.00,3143.24 794.00,3143.43 797.00,3143.12 800.00,3143.01 803.00,3143.55 806.00,3142.81 809.00,3143.28 812.00,3142.99 815.00,3143.36 818.00,3142.72 821.00,3143.58 824.00,3142.96 827.00,3142.66 830.00,3142.87 833.00,3143.00 836.00,3142.61 839.00,3143.02 842.00,3143.02 845.00,3143.30 848.00,3142.95 851.00,3142.87 854.00,3142.82 857.00,3143.34 860.00,3143.54 863.00,3143.13 866.00,3142.82 869.00,3143.40 872.00,3142.99 875.00,3142.81 878.00,3142.73 881.00,3143.38 884.00,3143.41 887.00,3143.23 890.00,3143.07 893.00,3143.16 896.00,3142.83 899.00,3143.56 902.00,3142.95 905.00,3143.24 908.00,3143.42 911.00,3143.42 914.00,3143.07 917.00,3142.89 920.00,3143.15 923.00,3142.73 926.00,3143.43 929.00,3142.95 932.00,3143.45 935.00,3142.87 938.00,3142.98 941.00,3142.85 944.00,3143.03 947.00,3142.79 950.00,3142.60 953.00,3143.32 956.00,3142.88 959.00,3142.84 962.00,3142.90 965.00,3143.08 968.00,3143.03 971.00,3143.24 974.00,3143.26 977.00,3142.96 980.00,3143.53 983.00,3143.45 986.00,3142.66 989.00,3143.43 992.00,3143.51 995.00,3143.38 998.00,3142.74 1001.00,3143.43 1004.00,3143.23 1007.00,3142.61 1010.00,3142.61 1013.00,3143.55 1016.00,3143.26 1019.00,3142.85 1022.00,3142.70 1025.00,3142.74 1028.00,3142.83 1031.00,3143.38 1034.00,3142.95 1037.00,3142.75 1040.00,3143.50 1043.00,3143.39 1046.00,3142.77 1049.00,3143.49 1052.00,3143.21 1055.00,3143.38 1058.00,3143.27 1061.00,3143.49 1064.00,3143.39 1067.00,3143.44 1070.00,3142.80 1073.00,3143.29 1076.00,3143.13 1079.00,3143.34 1082.00,3143.04 1085.00,3143.48 1088.00,3143.16 1091.00,3142.86 1094.00,3142.83 1097.00,3142.74 1100.00,3143.09 1103.00,3142.66 1106.00,3143.07 1109.00,3142.74 1112.00,3143.09 1115.00,3143.10 1118.00,3143.14 1121.00,3143.46 1124.00,3142.61 1127.00,3143.44 1130.00,3143.07 1133.00,3143.16 1136.00,3143.27 1139.00,3143.44 1142.00,3142.97 1145.00,3143.02 1148.00,3143.56 1151.00,3142.68 1154.00,3143.24 1157.00,3143.24 1160.00,3142.63 1163.00,3143.21 1166.00,3143.28 1169.00,3143.53 1172.00,3142.93 1175.00,3143.58 1178.00,3143.11 1181.00,3143.08 1184.00,3143.50 1187.00,3142.63 1190.00,3143.32 1193.00,3143.23 1196.00,3142.94 1199.00,3143.46 1202.00,3142.97 1205.00,3143.07 1208.00,3143.13 1211.00,3143.37 1214.00,3142.81 1217.00,3143.04 1220.00,3143.02 1223.00,3143.15 1226.00,3143.43 1229.00,3142.89 1232.00,3143.43 1235.00,3143.00 1238.00,3143.10 1241.00,3142.87 1244.00,3143.11 1247.00,3143.57 1250.00,3143.25 1253.00,3143.39 1256.00,3142.93 1259.00,3142.92 1262.00,3142.90 1265.00,3143.19 1268.00,3143.23 1271.00,3143.38 1274.00,3142.64 1277.00,3143.32 1280.00,3143.49 1283.00,3143.15 1286.00,3142.65 1289.00,3142.90 1292.00,3142.61 1295.00,3142.79 1298.00,3143.52 1301.00,3143.21 1304.00,3143.26 1307.00,3143.39 1310.00,3143.51 1313.00,3143.21 1316.00,3143.22 1319.00,3143.23 1322.00,3143.30 1325.00,3143.20 1328.00,3143.28 1331.00,3142.81 1334.00,3143.27 1337.00,3143.06 1340.00,3143.36 1343.00,3142.70 1346.00,3142.78 1349.00,3142.64 1352.00,3143.37 1355.00,3143.51 1358.00,3143.26 1361.00,3142.97 1364.00,3143.42 1367.00,3143.39 1370.00,3143.16 1373.00,3142.86 1376.00,3142.90 1379.00,3143.02 1382.00,3142.92 1385.00,3143.03 1388.00,3143.24 1391.00,3143.53 1394.00,3142.65 1397.00,3143.17 1400.00,3142.64 1403.00,3142.72 1406.00,3143.41 1409.00,3143.18 1412.00,3143.52 1415.00,3143.05 1418.00,3142.61 1421.00,3142.99 1424.00,3143.19 1427.00,3143.54 1430.00,3143.58 1433.00,3143.08 1436.00,3143.01 1439.00,3142.70 1442.00,3143.24 1445.00,3142.81 1448.00,3142.75 1451.00,3142.62 1454.00,3142.60 1457.00,3143.28 1460.00,3142.72 1463.00,3143.57 1466.00,3142.69 1469.00,3143.47 1472.00,3142.73 1475.00,3142.62 1478.00,3143.32 1481.00,3142.84 1484.00,3143.33 1487.00,3142.79 1490.00,3142.65 1493.00,3143.37 1496.00,3143.31 1499.00,3143.46 1502.00,3143.33 1505.00,3142.68 1508.00,3143.23 1511.00,3143.31 1514.00,3143.06 1517.00,3143.53 1520.00,3142.85 1523.00,3143.56 1526.00,3143.32 1529.00,3142.61 1532.00,3142.61 1535.00,3143.25 1538.00,3143.42 1541.00,3142.68 1544.00,3142.91 1547.00,3143.33 1550.00,3142.77 1553.00,3143.46 1556.00,3143.09 1559.00,3142.66 1562.00,3142.97 1565.00,3143.17 1568.00,3143.04 1571.00,3143.28 1574.00,3142.74 1577.00,3143.40 1580.00,3142.96 1583.00,3143.24 1586.00,3143.23 1589.00,3143.02 1592.00,3142.99 1595.00,3143.39 1598.00,3143.54 1601.00,3143.38 1604.00,3143.17 1607.00,3142.89 1610.00,3142.66 1613.00,3143.57 1616.00,3143.30 1619.00,3143.43 1622.00,3142.93 1625.00,3143.21 1628.00,3143.58 1631.00,3143.43 1634.00,3143.20 1637.00,3142.91 1640.00,3143.03 1643.00,3143.49 1646.00,3142.98 1649.00,3143.28 1652.00,3143.20 1655.00,3143.50 1658.00,3143.41 1661.00,3142.88 1664.00,3142.60 1667.00,3142.86 1670.00,3143.02 1673.00,3143.19 1676.00,3143.42 1679.00,3143.49 1682.00,3142.64 1685.00,3143.43 1688.00,3143.41 1691.00,3143.47 1694.00,3143.17 1697.00,3142.87 1700.00,3143.45 1703.00,3143.41 1706.00,3143.28 1709.00,3143.51 1712.00,3142.95 1715.00,3142.69 1718.00,3143.15 1721.00,3143.40 1724.00,3142.80 1727.00,3143.35 1730.00,3143.53 1733.00,3142.83 1736.00,3143.21 1739.00,3143.28 1742.00,3143.07 1745.00,3142.81 1748.00,3142.85 1751.00,3143.35 1754.00,3143.39 1757.00,3143.06 1760.00,3142.69 1763.00,3143.41 1766.00,3143.37 1769.00,3142.83 1772.00,3143.18 1775.00,3143.50 1778.00,3143.49 1781.00,3143.12 1784.00,3143.08 1787.00,3143.19 1790.00,3142.79 1793.00,3142.79 1796.00,3142.78 1799.00,3143.30 1802.00,3142.96 1805.00,3143.16 1808.00,3143.00 1811.00,3143.12 1814.00,3142.75 1817.00,3142.64 1820.00,3143.60 1821.60,3143.10" fill="none" stroke="#000" stroke-width="5.8" stroke-linejoin="round" stroke-linecap="butt"/>
<polyline points="98.00,3358.40 400.00,3359.20 760.00,3362.00 1100.00,3365.00 1472.00,3364.61" fill="none" stroke="#000" stroke-width="7.2" stroke-linejoin="round" stroke-linecap="butt"/>
<polyline points="1487.00,3363.38 1821.60,3361.80" fill="none" stroke="#000" stroke-width="7.2" stroke-linejoin="round" stroke-linecap="butt"/>
<polyline points="98.00,3358.15 101.00,3357.62 104.00,3358.68 107.00,3359.00 110.00,3357.74 113.00,3358.63 116.00,3358.14 119.00,3358.49 122.00,3357.50 125.00,3357.54 128.00,3359.46 131.00,3359.22 134.00,3358.47 137.00,3358.64 140.00,3358.03 143.00,3359.08 146.00,3358.38 149.00,3359.43 152.00,3359.08 155.00,3359.19 158.00,3359.49 161.00,3358.07 164.00,3357.65 167.00,3357.98 170.00,3357.95 173.00,3357.77 176.00,3357.71 179.00,3358.73 182.00,3359.36 185.00,3358.55 188.00,3359.53 191.00,3359.47 194.00,3357.78 197.00,3358.86 200.00,3358.46 203.00,3357.92 206.00,3359.60 209.00,3358.21 212.00,3358.83 215.00,3358.99 218.00,3359.63 221.00,3359.07 224.00,3358.52 227.00,3358.64 230.00,3358.07 233.00,3359.69 236.00,3359.75 239.00,3358.22 242.00,3357.86 245.00,3358.30 248.00,3358.50 251.00,3359.61 254.00,3359.62 257.00,3359.50 260.00,3357.92 263.00,3359.41 266.00,3359.26 269.00,3359.15 272.00,3359.83 275.00,3357.98 278.00,3358.17 281.00,3359.39 284.00,3359.77 287.00,3359.25 290.00,3358.51 293.00,3359.10 296.00,3359.44 299.00,3358.14 302.00,3358.59 305.00,3358.46 308.00,3358.20 311.00,3358.93 314.00,3358.31 317.00,3358.46 320.00,3358.27 323.00,3359.35 326.00,3358.03 329.00,3359.45 332.00,3358.41 335.00,3358.10 338.00,3359.89 341.00,3358.48 344.00,3359.92 347.00,3359.79 350.00,3359.84 353.00,3358.36 356.00,3358.98 359.00,3358.29 362.00,3359.96 365.00,3359.79 368.00,3359.37 371.00,3359.03 374.00,3358.81 377.00,3359.79 380.00,3359.10 383.00,3359.41 386.00,3358.45 389.00,3358.61 392.00,3358.29 395.00,3359.61 398.00,3359.30 401.00,3358.50 404.00,3359.97 407.00,3358.79 410.00,3359.10 413.00,3358.61 416.00,3358.87 419.00,3360.03 422.00,3359.04 425.00,3358.73 428.00,3359.40 431.00,3359.08 434.00,3360.27 437.00,3358.72 440.00,3360.47 443.00,3358.65 446.00,3360.35 449.00,3359.92 452.00,3359.03 455.00,3359.58 458.00,3359.22 461.00,3359.19 464.00,3359.10 467.00,3359.45 470.00,3360.73 473.00,3360.76 476.00,3360.64 479.00,3359.01 482.00,3359.42 485.00,3360.65 488.00,3359.00 491.00,3360.36 494.00,3359.52 497.00,3360.91 500.00,3359.01 503.00,3360.62 506.00,3359.71 509.00,3359.33 512.00,3359.07 515.00,3360.76 518.00,3360.17 521.00,3359.51 524.00,3360.03 527.00,3361.01 530.00,3359.65 533.00,3360.38 536.00,3359.53 539.00,3359.64 542.00,3360.85 545.00,3360.75 548.00,3359.74 551.00,3359.53 554.00,3359.57 557.00,3360.64 560.00,3360.44 563.00,3360.02 566.00,3359.90 569.00,3360.74 572.00,3360.95 575.00,3361.18 578.00,3360.75 581.00,3360.01 584.00,3359.76 587.00,3361.12 590.00,3360.49 593.00,3361.14 596.00,3359.84 599.00,3361.37 602.00,3360.44 605.00,3361.48 608.00,3361.55 611.00,3360.83 614.00,3359.90 617.00,3361.71 620.00,3360.86 623.00,3361.68 626.00,3360.49 629.00,3360.35 632.00,3361.67 635.00,3360.76 638.00,3360.38 641.00,3360.82 644.00,3361.29 647.00,3360.13 650.00,3361.18 653.00,3361.06 656.00,3361.22 659.00,3360.46 662.00,3361.67 665.00,3361.89 668.00,3362.02 671.00,3360.95 674.00,3361.75 677.00,3361.12 680.00,3361.88 683.00,3360.52 686.00,3362.17 689.00,3362.36 692.00,3361.46 695.00,3361.52 698.00,3361.58 701.00,3361.62 704.00,3360.61 707.00,3362.52 710.00,3361.06 713.00,3361.00 716.00,3360.86 719.00,3361.18 722.00,3362.34 725.00,3360.79 728.00,3360.94 731.00,3362.17 734.00,3361.19 737.00,3360.86 740.00,3362.04 743.00,3362.02 746.00,3361.94 749.00,3362.32 752.00,3361.14 755.00,3362.70 758.00,3362.42 761.00,3361.10 764.00,3361.28 767.00,3362.05 770.00,3362.09 773.00,3361.67 776.00,3361.39 779.00,3361.98 782.00,3361.47 785.00,3362.40 788.00,3362.97 791.00,3361.57 794.00,3362.45 797.00,3362.82 800.00,3361.68 803.00,3363.03 806.00,3363.28 809.00,3362.21 812.00,3362.30 815.00,3363.16 818.00,3362.56 821.00,3362.33 824.00,3363.45 827.00,3363.14 830.00,3362.29 833.00,3362.12 836.00,3362.34 839.00,3362.57 842.00,3363.69 845.00,3363.36 848.00,3363.60 851.00,3363.43 854.00,3363.52 857.00,3361.96 860.00,3362.92 863.00,3363.82 866.00,3363.80 869.00,3362.46 872.00,3362.83 875.00,3363.28 878.00,3362.77 881.00,3363.13 884.00,3362.23 887.00,3362.99 890.00,3363.16 893.00,3362.22 896.00,3362.48 899.00,3364.17 902.00,3363.81 905.00,3364.15 908.00,3363.57 911.00,3363.95 914.00,3364.13 917.00,3364.15 920.00,3362.48 923.00,3363.72 926.00,3363.00 929.00,3363.85 932.00,3363.06 935.00,3363.63 938.00,3364.42 941.00,3363.84 944.00,3363.12 947.00,3363.69 950.00,3363.54 953.00,3364.60 956.00,3363.30 959.00,3363.37 962.00,3364.08 965.00,3363.05 968.00,3364.02 971.00,3364.77 974.00,3363.92 977.00,3363.45 980.00,3363.87 983.00,3364.04 986.00,3363.29 989.00,3363.27 992.00,3363.31 995.00,3363.66 998.00,3363.91 1001.00,3363.70 1004.00,3363.64 1007.00,3363.36 1010.00,3364.30 1013.00,3364.91 1016.00,3364.48 1019.00,3364.43 1022.00,3364.61 1025.00,3363.74 1028.00,3364.79 1031.00,3364.31 1034.00,3364.51 1037.00,3364.67 1040.00,3364.41 1043.00,3364.12 1046.00,3364.01 1049.00,3363.99 1052.00,3364.60 1055.00,3364.37 1058.00,3364.80 1061.00,3363.68 1064.00,3364.39 1067.00,3365.43 1070.00,3364.21 1073.00,3364.88 1076.00,3364.77 1079.00,3364.38 1082.00,3365.82 1085.00,3364.46 1088.00,3365.44 1091.00,3364.24 1094.00,3364.08 1097.00,3365.72 1100.00,3364.88 1103.00,3364.12 1106.00,3364.77 1109.00,3364.87 1112.00,3365.46 1115.00,3364.20 1118.00,3364.43 1121.00,3365.90 1124.00,3365.45 1127.00,3364.28 1130.00,3364.64 1133.00,3364.67 1136.00,3365.31 1139.00,3365.19 1142.00,3365.66 1145.00,3365.59 1148.00,3364.98 1151.00,3365.42 1154.00,3365.43 1157.00,3365.46 1160.00,3364.89 1163.00,3365.50 1166.00,3365.35 1169.00,3365.76 1172.00,3364.18 1175.00,3365.66 1178.00,3363.93 1181.00,3365.45 1184.00,3365.08 1187.00,3364.90 1190.00,3365.83 1193.00,3365.05 1196.00,3364.73 1199.00,3365.46 1202.00,3365.64 1205.00,3365.10 1208.00,3364.64 1211.00,3364.79 1214.00,3364.80 1217.00,3365.32 1220.00,3364.46 1223.00,3364.65 1226.00,3364.98 1229.00,3364.63 1232.00,3364.50 1235.00,3365.43 1238.00,3365.55 1241.00,3364.85 1244.00,3364.74 1247.00,3364.21 1250.00,3364.45 1253.00,3364.13 1256.00,3364.99 1259.00,3364.99 1262.00,3364.00 1265.00,3365.67 1268.00,3364.47 1271.00,3365.51 1274.00,3365.49 1277.00,3365.73 1280.00,3364.22 1283.00,3364.66 1286.00,3365.62 1289.00,3363.82 1292.00,3363.89 1295.00,3364.92 1298.00,3364.79 1301.00,3365.63 1304.00,3365.33 1307.00,3364.86 1310.00,3365.77 1313.00,3364.81 1316.00,3364.81 1319.00,3365.14 1322.00,3364.54 1325.00,3364.48 1328.00,3364.95 1331.00,3364.46 1334.00,3365.65 1337.00,3365.10 1340.00,3364.80 1343.00,3363.94 1346.00,3364.49 1349.00,3364.54 1352.00,3364.86 1355.00,3364.88 1358.00,3365.49 1361.00,3365.65 1364.00,3364.69 1367.00,3364.60 1370.00,3364.96 1373.00,3365.70 1376.00,3364.39 1379.00,3364.77 1382.00,3365.33 1385.00,3364.04 1388.00,3364.33 1391.00,3365.65 1394.00,3365.34 1397.00,3364.71 1400.00,3363.90 1403.00,3365.47 1406.00,3365.06 1409.00,3365.31 1412.00,3365.65 1415.00,3365.44 1418.00,3364.51 1421.00,3363.97 1424.00,3364.24 1427.00,3364.68 1430.00,3364.66 1433.00,3364.02 1436.00,3364.01 1439.00,3364.90 1442.00,3364.84 1445.00,3364.34 1448.00,3365.62 1451.00,3364.90 1454.00,3363.71 1457.00,3364.45 1460.00,3365.19 1463.00,3364.23 1466.00,3364.99 1469.00,3363.62 1472.00,3364.61" fill="none" stroke="#000" stroke-width="7.0" stroke-linejoin="round" stroke-linecap="butt"/>
<polyline points="1487.00,3362.99 1490.00,3364.05 1493.00,3363.52 1496.00,3363.67 1499.00,3362.71 1502.00,3363.30 1505.00,3363.40 1508.00,3362.81 1511.00,3363.56 1514.00,3363.31 1517.00,3364.23 1520.00,3363.37 1523.00,3363.03 1526.00,3362.44 1529.00,3362.49 1532.00,3363.68 1535.00,3362.36 1538.00,3362.34 1541.00,3362.46 1544.00,3363.15 1547.00,3363.74 1550.00,3363.31 1553.00,3363.68 1556.00,3362.18 1559.00,3362.06 1562.00,3363.56 1565.00,3362.65 1568.00,3363.43 1571.00,3362.69 1574.00,3362.31 1577.00,3362.49 1580.00,3362.14 1583.00,3363.73 1586.00,3363.07 1589.00,3362.59 1592.00,3362.78 1595.00,3362.64 1598.00,3361.96 1601.00,3363.62 1604.00,3362.99 1607.00,3363.73 1610.00,3362.68 1613.00,3363.02 1616.00,3362.27 1619.00,3361.84 1622.00,3363.60 1625.00,3363.44 1628.00,3362.34 1631.00,3363.50 1634.00,3363.32 1637.00,3362.28 1640.00,3362.86 1643.00,3363.56 1646.00,3362.62 1649.00,3363.51 1652.00,3362.08 1655.00,3362.36 1658.00,3363.01 1661.00,3362.00 1664.00,3362.16 1667.00,3363.28 1670.00,3362.48 1673.00,3363.09 1676.00,3361.97 1679.00,3361.82 1682.00,3362.17 1685.00,3361.82 1688.00,3363.37 1691.00,3362.00 1694.00,3362.52 1697.00,3361.62 1700.00,3362.44 1703.00,3362.13 1706.00,3362.15 1709.00,3361.46 1712.00,3361.56 1715.00,3362.95 1718.00,3361.99 1721.00,3361.76 1724.00,3361.64 1727.00,3361.81 1730.00,3361.71 1733.00,3361.29 1736.00,3362.53 1739.00,3361.87 1742.00,3361.49 1745.00,3362.57 1748.00,3361.33 1751.00,3361.67 1754.00,3362.79 1757.00,3361.36 1760.00,3361.98 1763.00,3362.75 1766.00,3362.67 1769.00,3361.37 1772.00,3361.74 1775.00,3362.46 1778.00,3361.76 1781.00,3362.91 1784.00,3361.39 1787.00,3362.86 1790.00,3361.96 1793.00,3361.39 1796.00,3361.83 1799.00,3361.17 1802.00,3362.31 1805.00,3361.40 1808.00,3362.66 1811.00,3362.03 1814.00,3361.57 1817.00,3361.31 1820.00,3362.02 1821.60,3361.80" fill="none" stroke="#000" stroke-width="7.0" stroke-linejoin="round" stroke-linecap="butt"/>
<rect x="1475.2" y="2051.8" width="10.7" height="1256" fill="#000"/>
<rect x="1474.3" y="2453.4" width="4" height="854" fill="#000"/>
<path d="M1472.5,3366 L1472.5,3316 Q1472.8,3311 1474.6,3307 L1479.7,3306 L1479.7,3366 Z" fill="#000"/>
<path d="M1480.9,3306 L1486.9,3306 L1486.9,3362 L1486.9,3366 L1480.9,3366 Z" fill="#000"/>
<path d="M1462,3364.5 Q1471,3364.5 1472.6,3356 L1476,3356 L1476,3368 L1462,3368 Z" fill="#000"/>
<path d="M1497,3363.4 Q1488.5,3363.4 1486.8,3355 L1484,3355 L1484,3367 L1497,3367 Z" fill="#000"/>
<path d="M338.10,2708.50 L338.10,2488.70 A2.60,2.60 0 0 1 343.30,2488.70 L343.30,2708.50 Z" fill="#000"/>
<path d="M393.80,2708.50 L393.80,2458.90 A2.60,2.60 0 0 1 399.00,2458.90 L399.00,2708.50 Z" fill="#000"/>
<path d="M430.50,2708.50 L430.50,2578.60 A2.60,2.60 0 0 1 435.70,2578.60 L435.70,2708.50 Z" fill="#000"/>
<path d="M518.70,2708.50 L518.70,2503.80 A2.60,2.60 0 0 1 523.90,2503.80 L523.90,2708.50 Z" fill="#000"/>
<path d="M527.60,2708.50 L527.60,2560.30 A2.60,2.60 0 0 1 532.80,2560.30 L532.80,2708.50 Z" fill="#000"/>
<path d="M965.50,2708.50 L965.50,2410.30 A2.60,2.60 0 0 1 970.70,2410.30 L970.70,2708.50 Z" fill="#000"/>
<path d="M1219.10,2708.50 L1219.10,2570.70 A2.60,2.60 0 0 1 1224.30,2570.70 L1224.30,2708.50 Z" fill="#000"/>
<path d="M1467.10,2708.50 L1467.10,2490.30 A2.60,2.60 0 0 1 1472.30,2490.30 L1472.30,2708.50 Z" fill="#000"/>
<path d="M1279.40,2926.50 L1279.40,2349.40 A2.60,2.60 0 0 1 1284.60,2349.40 L1284.60,2926.50 Z" fill="#000"/>
<path d="M1357.90,2926.50 L1357.90,2324.30 A2.80,2.80 0 0 1 1363.50,2324.30 L1363.50,2926.50 Z" fill="#000"/>
<path d="M338.00,2926.50 L338.00,2786.70 A2.60,2.60 0 0 1 343.20,2786.70 L343.20,2926.50 Z" fill="#000"/>
<path d="M393.80,2926.50 L393.80,2762.60 A2.60,2.60 0 0 1 399.00,2762.60 L399.00,2926.50 Z" fill="#000"/>
<path d="M430.80,2926.50 L430.80,2857.60 A2.60,2.60 0 0 1 436.00,2857.60 L436.00,2926.50 Z" fill="#000"/>
<path d="M518.70,2926.50 L518.70,2788.60 A2.60,2.60 0 0 1 523.90,2788.60 L523.90,2926.50 Z" fill="#000"/>
<path d="M527.30,2926.50 L527.30,2851.60 A2.60,2.60 0 0 1 532.50,2851.60 L532.50,2926.50 Z" fill="#000"/>
<path d="M965.60,2926.50 L965.60,2767.60 A2.60,2.60 0 0 1 970.80,2767.60 L970.80,2926.50 Z" fill="#000"/>
<path d="M1219.20,2926.50 L1219.20,2834.60 A2.60,2.60 0 0 1 1224.40,2834.60 L1224.40,2926.50 Z" fill="#000"/>
<path d="M1467.10,2926.50 L1467.10,2786.10 A2.60,2.60 0 0 1 1472.30,2786.10 L1472.30,2926.50 Z" fill="#000"/>
<path d="M404.65,3144.00 L404.65,3064.15 A3.15,3.15 0 0 1 410.95,3064.15 L410.95,3144.00 Z" fill="#000"/>
<path d="M424.60,3144.00 L424.60,3066.80 A2.60,2.60 0 0 1 429.80,3066.80 L429.80,3144.00 Z" fill="#000"/>
<path d="M518.90,3144.00 L518.90,3063.90 A2.60,2.60 0 0 1 524.10,3063.90 L524.10,3144.00 Z" fill="#000"/>
<path d="M590.40,3144.00 L590.40,3075.20 A2.60,2.60 0 0 1 595.60,3075.20 L595.60,3144.00 Z" fill="#000"/>
<path d="M929.25,3144.00 L929.25,3025.15 A2.65,2.65 0 0 1 934.55,3025.15 L934.55,3144.00 Z" fill="#000"/>
<path d="M327.30,3360.00 L327.30,3328.10 A2.40,2.40 0 0 1 332.10,3328.10 L332.10,3360.00 Z" fill="#000"/>
<path d="M1211.20,3366.00 L1211.20,3326.10 A2.50,2.50 0 0 1 1216.20,3326.10 L1216.20,3366.00 Z" fill="#000"/>
<path d="M1273.80,3366.00 L1273.80,3272.20 A2.50,2.50 0 0 1 1278.80,3272.20 L1278.80,3366.00 Z" fill="#000"/>
<path d="M1358.10,3366.00 L1358.10,3259.50 A2.60,2.60 0 0 1 1363.30,3259.50 L1363.30,3366.00 Z" fill="#000"/>
<line x1="430.6" y1="2579.5" x2="487" y2="2427" stroke="#ff0000" stroke-width="5"/>
<polygon points="496.00,2403.70 498.90,2431.80 475.30,2422.00" fill="#ff0000"/>
<text x="222.10" y="625.00" font-size="40.6" fill="#000" stroke="#000" stroke-width="0.3" transform="translate(222.10,625.00) scale(1.0000,1.0400) translate(-222.10,-625.00)">NH</text>
<text x="202.15" y="673.20" font-size="40.6" fill="#000" stroke="#000" stroke-width="0.3" transform="translate(202.15,673.20) scale(1.0000,1.0400) translate(-202.15,-673.20)">(N12)</text>
<text x="354.70" y="582.60" font-size="40.6" fill="#ff0000" stroke="#ff0000" stroke-width="0.3" transform="translate(354.70,582.60) scale(0.9995,1.0200) translate(-354.70,-582.60)">Protonation</text>
<text x="427.55" y="631.80" font-size="40.6" fill="#ff0000" stroke="#ff0000" stroke-width="0.3" transform="translate(427.55,631.80) scale(1.0000,1.0400) translate(-427.55,-631.80)">OH</text>
<text x="418.70" y="679.30" font-size="40.6" fill="#ff0000" stroke="#ff0000" stroke-width="0.3" transform="translate(418.70,679.30) scale(1.0000,1.0400) translate(-418.70,-679.30)">(C1)</text>
<text x="418.00" y="727.30" font-size="40.6" fill="#ff0000" stroke="#ff0000" stroke-width="0.3" transform="translate(418.00,727.30) scale(1.0000,1.0400) translate(-418.00,-727.30)">9.58</text>
<text x="930.35" y="34.40" font-size="40.6" fill="#ff0000" stroke="#ff0000" stroke-width="0.3" transform="translate(930.35,34.40) scale(1.0000,1.0400) translate(-930.35,-34.40)">Ar-CH</text>
<text x="946.90" y="83.60" font-size="40.6" fill="#ff0000" stroke="#ff0000" stroke-width="0.3" transform="translate(946.90,83.60) scale(1.0000,1.0400) translate(-946.90,-83.60)">(C8)</text>
<text x="945.35" y="130.60" font-size="40.6" fill="#ff0000" stroke="#ff0000" stroke-width="0.3" transform="translate(945.35,130.60) scale(1.0000,1.0400) translate(-945.35,-130.60)">5.73</text>
<text x="1318.90" y="83.60" font-size="40.6" fill="#000" stroke="#000" stroke-width="0.3" transform="translate(1318.90,83.60) scale(1.0000,1.0400) translate(-1318.90,-83.60)">CH<tspan font-size="28.42" dy="9.54">3</tspan></text>
<text x="1316.40" y="131.70" font-size="40.6" fill="#000" stroke="#000" stroke-width="0.3" transform="translate(1316.40,131.70) scale(1.0000,1.0400) translate(-1316.40,-131.70)">(N5)</text>
<text x="1417.15" y="264.00" font-size="40.6" fill="#ff0000" stroke="#ff0000" stroke-width="0.3" transform="translate(1417.15,264.00) scale(1.0000,1.0400) translate(-1417.15,-264.00)">CH<tspan font-size="28.42" dy="9.54">2</tspan></text>
<text x="1415.00" y="312.80" font-size="40.6" fill="#ff0000" stroke="#ff0000" stroke-width="0.3" transform="translate(1415.00,312.80) scale(1.0000,1.0400) translate(-1415.00,-312.80)">(C2)</text>
<text x="1414.15" y="361.00" font-size="40.6" fill="#ff0000" stroke="#ff0000" stroke-width="0.3" transform="translate(1414.15,361.00) scale(1.0000,1.0400) translate(-1414.15,-361.00)">2.48</text>
<text x="1234.75" y="366.00" font-size="40.6" fill="#ff0000" stroke="#ff0000" stroke-width="0.3" transform="translate(1234.75,366.00) scale(1.0000,1.0400) translate(-1234.75,-366.00)">CH<tspan font-size="28.42" dy="9.54">2</tspan></text>
<text x="1232.25" y="414.50" font-size="40.6" fill="#ff0000" stroke="#ff0000" stroke-width="0.3" transform="translate(1232.25,414.50) scale(1.0000,1.0400) translate(-1232.25,-414.50)">(C4)</text>
<text x="1233.10" y="463.40" font-size="40.6" fill="#ff0000" stroke="#ff0000" stroke-width="0.3" transform="translate(1233.10,463.40) scale(1.0000,1.0400) translate(-1233.10,-463.40)">3.39</text>
<text x="1127.85" y="531.70" font-size="40.6" fill="#ff0000" stroke="#ff0000" stroke-width="0.3" transform="translate(1127.85,531.70) scale(1.0000,1.0400) translate(-1127.85,-531.70)">CH</text>
<text x="1118.30" y="580.30" font-size="40.6" fill="#ff0000" stroke="#ff0000" stroke-width="0.3" transform="translate(1118.30,580.30) scale(1.0000,1.0400) translate(-1118.30,-580.30)">(C3)</text>
<text x="1116.50" y="629.60" font-size="40.6" fill="#ff0000" stroke="#ff0000" stroke-width="0.3" transform="translate(1116.50,629.60) scale(1.0000,1.0400) translate(-1116.50,-629.60)">4.44</text>
<text x="1502.89" y="736.30" font-size="49.3" fill="#000" stroke="#000" stroke-width="0.3" transform="translate(1502.89,736.30) scale(1.0031,1.0200) translate(-1502.89,-736.30)">Form-II [16hr]</text>
<text x="1544.90" y="980.20" font-size="49.3" fill="#000" stroke="#000" stroke-width="0.3" transform="translate(1544.90,980.20) scale(0.9996,1.0200) translate(-1544.90,-980.20)">Form-I [1hr]</text>
<text x="1587.01" y="1234.40" font-size="49.3" fill="#000" stroke="#000" stroke-width="0.3" transform="translate(1587.01,1234.40) scale(0.9957,1.0200) translate(-1587.01,-1234.40)">Orotic acid</text>
<text x="1595.01" y="1421.20" font-size="49.3" fill="#000" stroke="#000" stroke-width="0.3" transform="translate(1595.01,1421.20) scale(0.9850,1.0200) translate(-1595.01,-1421.20)"><tspan font-style="italic">L</tspan>-carnitine</text>
<text x="160.90" y="1156.00" font-size="33.0" fill="#000" stroke="#000" stroke-width="0.3" transform="translate(160.90,1156.00) scale(1.0000,1.0400) translate(-160.90,-1156.00)">NH</text>
<text x="143.55" y="1194.40" font-size="33.0" fill="#000" stroke="#000" stroke-width="0.3" transform="translate(143.55,1194.40) scale(1.0000,1.0400) translate(-143.55,-1194.40)">(N10)</text>
<text x="248.75" y="1123.00" font-size="33.0" fill="#000" stroke="#000" stroke-width="0.3" transform="translate(248.75,1123.00) scale(1.0000,1.0400) translate(-248.75,-1123.00)">NH</text>
<text x="231.35" y="1161.50" font-size="33.0" fill="#000" stroke="#000" stroke-width="0.3" transform="translate(231.35,1161.50) scale(1.0000,1.0400) translate(-231.35,-1161.50)">(N12)</text>
<text x="851.10" y="1054.80" font-size="33.0" fill="#000" stroke="#000" stroke-width="0.3" transform="translate(851.10,1054.80) scale(1.0000,1.0400) translate(-851.10,-1054.80)">Ar-CH</text>
<text x="864.60" y="1093.30" font-size="33.0" fill="#000" stroke="#000" stroke-width="0.3" transform="translate(864.60,1093.30) scale(1.0000,1.0400) translate(-864.60,-1093.30)">(C8)</text>
<text x="864.25" y="1131.80" font-size="33.0" fill="#000" stroke="#000" stroke-width="0.3" transform="translate(864.25,1131.80) scale(1.0000,1.0400) translate(-864.25,-1131.80)">5.99</text>
<text x="1179.25" y="1347.00" font-size="33.0" fill="#000" stroke="#000" stroke-width="0.3" transform="translate(1179.25,1347.00) scale(1.0000,1.0400) translate(-1179.25,-1347.00)">CH</text>
<text x="1171.55" y="1385.70" font-size="33.0" fill="#000" stroke="#000" stroke-width="0.3" transform="translate(1171.55,1385.70) scale(1.0000,1.0400) translate(-1171.55,-1385.70)">(C3)</text>
<text x="1170.85" y="1424.70" font-size="33.0" fill="#000" stroke="#000" stroke-width="0.3" transform="translate(1170.85,1424.70) scale(1.0000,1.0400) translate(-1170.85,-1424.70)">4.17</text>
<text x="1357.05" y="1328.50" font-size="33.0" fill="#000" stroke="#000" stroke-width="0.3" transform="translate(1357.05,1328.50) scale(1.0000,1.0400) translate(-1357.05,-1328.50)">CH<tspan font-size="23.1" dy="7.75">3</tspan></text>
<text x="1355.80" y="1367.00" font-size="33.0" fill="#000" stroke="#000" stroke-width="0.3" transform="translate(1355.80,1367.00) scale(1.0000,1.0400) translate(-1355.80,-1367.00)">(N5)</text>
<text x="1483.25" y="1342.40" font-size="33.0" fill="#000" stroke="#000" stroke-width="0.3" transform="translate(1483.25,1342.40) scale(1.0000,1.0400) translate(-1483.25,-1342.40)">CH<tspan font-size="23.1" dy="7.75">2</tspan></text>
<text x="1484.15" y="1381.40" font-size="33.0" fill="#000" stroke="#000" stroke-width="0.3" transform="translate(1484.15,1381.40) scale(1.0000,1.0400) translate(-1484.15,-1381.40)">(C2)</text>
<text x="1484.60" y="1419.90" font-size="33.0" fill="#000" stroke="#000" stroke-width="0.3" transform="translate(1484.60,1419.90) scale(1.0000,1.0400) translate(-1484.60,-1419.90)">1.94</text>
<text x="1274.64" y="1498.80" font-size="33.0" fill="#000" stroke="#000" stroke-width="0.3" transform="translate(1274.64,1498.80) scale(0.9597,1.0400) translate(-1274.64,-1498.80)">CH<tspan font-size="23.1" dy="7.75">2</tspan><tspan dy="-7.75">(C4) 3.21</tspan></text>
<text x="793.07" y="1794.50" font-size="72.5" fill="#000" stroke="#000" stroke-width="0.3" transform="translate(793.07,1794.50) scale(1.0085,1.0200) translate(-793.07,-1794.50)"><tspan font-size="47.12" dy="-22.48">1</tspan><tspan dy="22.48">H [ppm]</tspan></text>
<text x="878.37" y="1952.00" font-size="90" fill="#000" stroke="#000" stroke-width="0.3" font-family='"Liberation Serif", serif' transform="translate(878.37,1952.00) scale(0.9330,1.0000) translate(-878.37,-1952.00)">(<tspan font-weight="bold">a</tspan>)</text>
<text x="227.45" y="2496.40" font-size="44" fill="#ff0000" stroke="#ff0000" stroke-width="0.3" transform="translate(227.45,2496.40) scale(1.0000,1.0400) translate(-227.45,-2496.40)">C1</text>
<text x="190.65" y="2550.30" font-size="44" fill="#ff0000" stroke="#ff0000" stroke-width="0.3" transform="translate(190.65,2550.30) scale(1.0000,1.0400) translate(-190.65,-2550.30)">171.80</text>
<text x="328.00" y="2390.00" font-size="44" fill="#ff0000" stroke="#ff0000" stroke-width="0.3" transform="translate(328.00,2390.00) scale(1.0000,1.0400) translate(-328.00,-2390.00)">C9</text>
<text x="289.70" y="2443.80" font-size="44" fill="#ff0000" stroke="#ff0000" stroke-width="0.3" transform="translate(289.70,2443.80) scale(1.0000,1.0400) translate(-289.70,-2443.80)">165.38</text>
<text x="491.40" y="2321.00" font-size="44" fill="#ff0000" stroke="#ff0000" stroke-width="0.3" transform="translate(491.40,2321.00) scale(1.0000,1.0400) translate(-491.40,-2321.00)">C6</text>
<text x="452.95" y="2373.90" font-size="44" fill="#ff0000" stroke="#ff0000" stroke-width="0.3" transform="translate(452.95,2373.90) scale(1.0000,1.0400) translate(-452.95,-2373.90)">160.02</text>
<text x="481.05" y="2490.30" font-size="44" fill="#000" stroke="#000" stroke-width="0.3" transform="translate(481.05,2490.30) scale(1.0000,1.0400) translate(-481.05,-2490.30)">C11</text>
<text x="578.45" y="2555.10" font-size="44" fill="#ff0000" stroke="#ff0000" stroke-width="0.3" transform="translate(578.45,2555.10) scale(1.0000,1.0400) translate(-578.45,-2555.10)">C7</text>
<text x="539.60" y="2608.70" font-size="44" fill="#ff0000" stroke="#ff0000" stroke-width="0.3" transform="translate(539.60,2608.70) scale(1.0000,1.0400) translate(-539.60,-2608.70)">149.80</text>
<text x="941.25" y="2318.00" font-size="44" fill="#ff0000" stroke="#ff0000" stroke-width="0.3" transform="translate(941.25,2318.00) scale(1.0000,1.0400) translate(-941.25,-2318.00)">C8</text>
<text x="913.25" y="2371.50" font-size="44" fill="#ff0000" stroke="#ff0000" stroke-width="0.3" transform="translate(913.25,2371.50) scale(1.0000,1.0400) translate(-913.25,-2371.50)">98.87</text>
<text x="1211.65" y="2277.00" font-size="44" fill="#ff0000" stroke="#ff0000" stroke-width="0.3" transform="translate(1211.65,2277.00) scale(1.0000,1.0400) translate(-1211.65,-2277.00)">C3</text>
<text x="1183.45" y="2330.50" font-size="44" fill="#ff0000" stroke="#ff0000" stroke-width="0.3" transform="translate(1183.45,2330.50) scale(1.0000,1.0400) translate(-1183.45,-2330.50)">62.51</text>
<text x="1183.80" y="2500.60" font-size="44" fill="#ff0000" stroke="#ff0000" stroke-width="0.3" transform="translate(1183.80,2500.60) scale(1.0000,1.0400) translate(-1183.80,-2500.60)">C4</text>
<text x="1155.45" y="2554.10" font-size="44" fill="#ff0000" stroke="#ff0000" stroke-width="0.3" transform="translate(1155.45,2554.10) scale(1.0000,1.0400) translate(-1155.45,-2554.10)">69.51</text>
<text x="1320.50" y="2255.80" font-size="44" fill="#000" stroke="#000" stroke-width="0.3" transform="translate(1320.50,2255.80) scale(1.0000,1.0400) translate(-1320.50,-2255.80)">CH<tspan font-size="30.8" dy="10.34">3</tspan></text>
<text x="1321.25" y="2308.20" font-size="44" fill="#000" stroke="#000" stroke-width="0.3" transform="translate(1321.25,2308.20) scale(1.0000,1.0400) translate(-1321.25,-2308.20)">(N5)</text>
<text x="1400.95" y="2551.70" font-size="44" fill="#000" stroke="#000" stroke-width="0.3" font-weight="bold" transform="translate(1400.95,2551.70) scale(1.0000,1.0400) translate(-1400.95,-2551.70)">C2</text>
<text x="1520.89" y="2658.60" font-size="53.3" fill="#000" stroke="#000" stroke-width="0.3" transform="translate(1520.89,2658.60) scale(1.0019,1.0200) translate(-1520.89,-2658.60)">Form-II [16hr]</text>
<text x="1561.59" y="2863.20" font-size="53.3" fill="#000" stroke="#000" stroke-width="0.3" transform="translate(1561.59,2863.20) scale(1.0026,1.0200) translate(-1561.59,-2863.20)">Form-I [1hr]</text>
<text x="1563.59" y="3087.50" font-size="53.3" fill="#000" stroke="#000" stroke-width="0.3" transform="translate(1563.59,3087.50) scale(1.0048,1.0200) translate(-1563.59,-3087.50)">Orotic acid</text>
<text x="1572.61" y="3320.00" font-size="53.3" fill="#000" stroke="#000" stroke-width="0.3" transform="translate(1572.61,3320.00) scale(0.9886,1.0200) translate(-1572.61,-3320.00)"><tspan font-style="italic">L</tspan>-carnitine</text>
<text x="296.85" y="3051.70" font-size="35.5" fill="#000" stroke="#000" stroke-width="0.3" transform="translate(296.85,3051.70) scale(1.0000,1.0400) translate(-296.85,-3051.70)">C9</text>
<text x="266.60" y="3093.40" font-size="35.5" fill="#000" stroke="#000" stroke-width="0.3" transform="translate(266.60,3093.40) scale(1.0000,1.0400) translate(-266.60,-3093.40)">164.06</text>
<text x="413.60" y="3000.90" font-size="35.5" fill="#000" stroke="#000" stroke-width="0.3" transform="translate(413.60,3000.90) scale(1.0000,1.0400) translate(-413.60,-3000.90)">C6</text>
<text x="383.10" y="3043.40" font-size="35.5" fill="#000" stroke="#000" stroke-width="0.3" transform="translate(383.10,3043.40) scale(1.0000,1.0400) translate(-383.10,-3043.40)">162.04</text>
<text x="511.70" y="3043.40" font-size="35.5" fill="#000" stroke="#000" stroke-width="0.3" transform="translate(511.70,3043.40) scale(1.0000,1.0400) translate(-511.70,-3043.40)">C11</text>
<text x="646.10" y="3038.00" font-size="35.5" fill="#000" stroke="#000" stroke-width="0.3" transform="translate(646.10,3038.00) scale(1.0000,1.0400) translate(-646.10,-3038.00)">C7</text>
<text x="610.45" y="3079.70" font-size="35.5" fill="#000" stroke="#000" stroke-width="0.3" transform="translate(610.45,3079.70) scale(1.0000,1.0400) translate(-610.45,-3079.70)">142. 56</text>
<text x="967.75" y="2997.70" font-size="35.5" fill="#000" stroke="#000" stroke-width="0.3" transform="translate(967.75,2997.70) scale(1.0000,1.0400) translate(-967.75,-2997.70)">C8</text>
<text x="942.60" y="3039.30" font-size="35.5" fill="#000" stroke="#000" stroke-width="0.3" transform="translate(942.60,3039.30) scale(1.0000,1.0400) translate(-942.60,-3039.30)">103.19</text>
<text x="299.40" y="3254.80" font-size="35.5" fill="#000" stroke="#000" stroke-width="0.3" transform="translate(299.40,3254.80) scale(1.0000,1.0400) translate(-299.40,-3254.80)">C1</text>
<text x="269.50" y="3295.70" font-size="35.5" fill="#000" stroke="#000" stroke-width="0.3" transform="translate(269.50,3295.70) scale(1.0000,1.0400) translate(-269.50,-3295.70)">173.07</text>
<text x="1148.55" y="3276.40" font-size="35.5" fill="#000" stroke="#000" stroke-width="0.3" transform="translate(1148.55,3276.40) scale(1.0000,1.0400) translate(-1148.55,-3276.40)">C4</text>
<text x="1128.25" y="3318.50" font-size="35.5" fill="#000" stroke="#000" stroke-width="0.3" transform="translate(1128.25,3318.50) scale(1.0000,1.0400) translate(-1128.25,-3318.50)">70.49</text>
<text x="1235.30" y="3213.40" font-size="35.5" fill="#000" stroke="#000" stroke-width="0.3" transform="translate(1235.30,3213.40) scale(1.0000,1.0400) translate(-1235.30,-3213.40)">C3</text>
<text x="1212.25" y="3255.50" font-size="35.5" fill="#000" stroke="#000" stroke-width="0.3" transform="translate(1212.25,3255.50) scale(1.0000,1.0400) translate(-1212.25,-3255.50)">63.21</text>
<text x="1326.35" y="3194.60" font-size="35.5" fill="#000" stroke="#000" stroke-width="0.3" transform="translate(1326.35,3194.60) scale(1.0000,1.0400) translate(-1326.35,-3194.60)">CH<tspan font-size="24.85" dy="8.34">3</tspan></text>
<text x="1327.85" y="3236.00" font-size="35.5" fill="#000" stroke="#000" stroke-width="0.3" transform="translate(1327.85,3236.00) scale(1.0000,1.0400) translate(-1327.85,-3236.00)">(N5)</text>
<text x="1408.25" y="3297.60" font-size="35.5" fill="#000" stroke="#000" stroke-width="0.3" transform="translate(1408.25,3297.60) scale(1.0000,1.0400) translate(-1408.25,-3297.60)">C2</text>
<text x="772.86" y="3715.50" font-size="78.5" fill="#000" stroke="#000" stroke-width="0.3" transform="translate(772.86,3715.50) scale(1.0112,1.0200) translate(-772.86,-3715.50)"><tspan font-size="51.02" dy="-24.34">13</tspan><tspan dy="24.34">C [ppm]</tspan></text>
<text x="874.70" y="3871.00" font-size="90" fill="#000" stroke="#000" stroke-width="0.3" font-family='"Liberation Serif", serif' transform="translate(874.70,3871.00) scale(0.9745,1.0000) translate(-874.70,-3871.00)">(<tspan font-weight="bold">b</tspan>)</text>
</svg>
</body></html>
